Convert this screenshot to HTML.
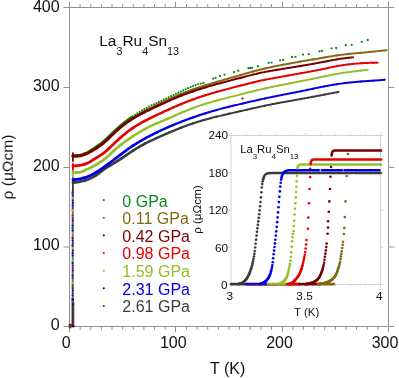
<!DOCTYPE html>
<html lang="en">
<head>
<meta charset="utf-8">
<title>La3Ru4Sn13 resistivity under pressure</title>
<style>
html,body{margin:0;padding:0;background:#ffffff;}
body{width:399px;height:378px;overflow:hidden;font-family:"Liberation Sans",sans-serif;}
svg{display:block;}
</style>
</head>
<body>
<svg width="399" height="378" viewBox="0 0 399 378">
<g id="main-curves">
<line x1="72.7" y1="190" x2="72.7" y2="299" stroke="#2c2c44" stroke-opacity="0.7" stroke-width="1.9"/>
<circle cx="72.49" cy="193" r="1.05" fill="#3c3c3c"/><circle cx="72.84" cy="195.5" r="1.05" fill="#0000e6"/><circle cx="72.67" cy="198" r="1.05" fill="#96be28"/><circle cx="72.81" cy="200.5" r="1.05" fill="#7a0000"/><circle cx="72.94" cy="203" r="1.05" fill="#0000e6"/><circle cx="72.72" cy="205.5" r="1.05" fill="#0000e6"/><circle cx="72.7" cy="208" r="1.05" fill="#3c3c3c"/><circle cx="72.49" cy="210.5" r="1.05" fill="#96be28"/><circle cx="72.58" cy="215.5" r="1.05" fill="#3c3c3c"/><circle cx="72.7" cy="218" r="1.05" fill="#e60000"/><circle cx="72.79" cy="220.5" r="1.05" fill="#0000e6"/><circle cx="72.85" cy="223" r="1.05" fill="#806b14"/><circle cx="72.64" cy="225.5" r="1.05" fill="#0000e6"/><circle cx="72.48" cy="228" r="1.05" fill="#3c3c3c"/><circle cx="72.59" cy="230.5" r="1.05" fill="#0000e6"/><circle cx="72.9" cy="233" r="1.05" fill="#96be28"/><circle cx="72.56" cy="238" r="1.05" fill="#7a0000"/><circle cx="72.68" cy="240.5" r="1.05" fill="#0000e6"/><circle cx="72.92" cy="243" r="1.05" fill="#3c3c3c"/><circle cx="72.46" cy="245.5" r="1.05" fill="#0000e6"/><circle cx="72.75" cy="248" r="1.05" fill="#96be28"/><circle cx="72.93" cy="250.5" r="1.05" fill="#7a0000"/><circle cx="72.57" cy="253" r="1.05" fill="#0000e6"/><circle cx="72.72" cy="255.5" r="1.05" fill="#0000e6"/><circle cx="72.9" cy="260.5" r="1.05" fill="#96be28"/><circle cx="72.52" cy="263" r="1.05" fill="#0000e6"/><circle cx="72.71" cy="265.5" r="1.05" fill="#3c3c3c"/><circle cx="72.83" cy="268" r="1.05" fill="#e60000"/><circle cx="72.78" cy="270.5" r="1.05" fill="#0000e6"/><circle cx="72.68" cy="273" r="1.05" fill="#806b14"/><circle cx="72.55" cy="275.5" r="1.05" fill="#0000e6"/><circle cx="72.7" cy="278" r="1.05" fill="#3c3c3c"/><circle cx="72.64" cy="283" r="1.05" fill="#96be28"/><circle cx="72.69" cy="285.5" r="1.05" fill="#3c3c3c"/><circle cx="72.63" cy="288" r="1.05" fill="#7a0000"/><circle cx="72.87" cy="290.5" r="1.05" fill="#0000e6"/><circle cx="72.83" cy="293" r="1.05" fill="#3c3c3c"/><circle cx="72.61" cy="295.5" r="1.05" fill="#0000e6"/>
<line x1="72.7" y1="298" x2="72.7" y2="326" stroke="#303030" stroke-width="2.3"/>
<line x1="73.95" y1="302" x2="73.95" y2="326" stroke="#6a2410" stroke-width="0.7"/>
<circle cx="72.7" cy="299.5" r="1.1" fill="#0000e6"/><circle cx="72.9" cy="304" r="1.1" fill="#0000e6"/>
<circle cx="72.6" cy="301.8" r="1" fill="#806b14"/>
<polyline points="72.9,155.7 73.9,155.69 74.9,155.65 75.9,155.58 76.9,155.51 77.9,155.41 78.9,155.31 79.9,155.17 80.9,154.95 81.9,154.66 82.9,154.33 83.9,153.96 84.9,153.57" fill="none" stroke="#0a8a1e" stroke-width="2.78" stroke-linecap="round" stroke-linejoin="round" /><polyline points="84.9,153.57 85.9,153.15 86.9,152.7 87.9,152.19 88.9,151.64 89.9,151.05 90.9,150.42 91.9,149.78 92.9,149.12 93.9,148.45 94.9,147.77 95.9,147.08 96.9,146.39" fill="none" stroke="#0a8a1e" stroke-width="2.76" stroke-linecap="round" stroke-linejoin="round" /><polyline points="96.9,146.39 97.9,145.68 98.9,144.97 99.9,144.24 100.9,143.49 101.9,142.71 102.9,141.91 103.9,141.08 104.9,140.22 105.9,139.34 106.9,138.42 107.9,137.48 108.9,136.51" fill="none" stroke="#0a8a1e" stroke-width="2.74" stroke-linecap="round" stroke-linejoin="round" /><polyline points="108.9,136.51 109.9,135.53 110.9,134.55 111.9,133.57 112.9,132.6 113.9,131.64 114.9,130.7 115.9,129.76 116.9,128.84 117.9,127.94 118.9,127.05 119.9,126.18 120.9,125.34" fill="none" stroke="#0a8a1e" stroke-width="2.72" stroke-linecap="round" stroke-linejoin="round" /><polyline points="120.9,125.34 121.9,124.51 122.9,123.69 123.9,122.9 124.9,122.11 125.9,121.35 126.9,120.59 127.9,119.85 128.9,119.12 129.9,118.4 130.9,117.69 131.9,116.99" fill="none" stroke="#0a8a1e" stroke-width="2.69" stroke-linecap="round" stroke-linejoin="round" />
<circle cx="132.9" cy="116.31" r="1.1" fill="#0a8a1e"/><circle cx="135.14" cy="114.8" r="1.1" fill="#0a8a1e"/><circle cx="137.41" cy="113.34" r="1.1" fill="#0a8a1e"/><circle cx="139.71" cy="111.92" r="1.1" fill="#0a8a1e"/><circle cx="142.03" cy="110.54" r="1.1" fill="#0a8a1e"/><circle cx="144.37" cy="109.2" r="1.1" fill="#0a8a1e"/><circle cx="146.74" cy="107.9" r="1.1" fill="#0a8a1e"/><circle cx="149.13" cy="106.65" r="1.1" fill="#0a8a1e"/><circle cx="151.54" cy="105.44" r="1.1" fill="#0a8a1e"/><circle cx="153.98" cy="104.26" r="1.1" fill="#0a8a1e"/><circle cx="156.42" cy="103.11" r="1.1" fill="#0a8a1e"/><circle cx="158.86" cy="101.97" r="1.1" fill="#0a8a1e"/><circle cx="161.31" cy="100.83" r="1.1" fill="#0a8a1e"/><circle cx="163.76" cy="99.68" r="1.1" fill="#0a8a1e"/><circle cx="166.2" cy="98.53" r="1.1" fill="#0a8a1e"/><circle cx="168.64" cy="97.37" r="1.1" fill="#0a8a1e"/><circle cx="171.07" cy="96.21" r="1.1" fill="#0a8a1e"/><circle cx="173.51" cy="95.04" r="1.1" fill="#0a8a1e"/><circle cx="175.94" cy="93.87" r="1.1" fill="#0a8a1e"/><circle cx="178.38" cy="92.71" r="1.1" fill="#0a8a1e"/><circle cx="180.81" cy="91.54" r="1.1" fill="#0a8a1e"/><circle cx="183.25" cy="90.39" r="1.1" fill="#0a8a1e"/><circle cx="185.7" cy="89.25" r="1.1" fill="#0a8a1e"/><circle cx="188.16" cy="88.14" r="1.1" fill="#0a8a1e"/><circle cx="190.64" cy="87.07" r="1.1" fill="#0a8a1e"/><circle cx="193.14" cy="86.05" r="1.1" fill="#0a8a1e"/><circle cx="195.67" cy="85.11" r="1.1" fill="#0a8a1e"/><circle cx="198.24" cy="84.26" r="1.1" fill="#0a8a1e"/><circle cx="200.83" cy="83.53" r="1.1" fill="#0a8a1e"/><circle cx="203.46" cy="82.92" r="1.1" fill="#0a8a1e"/>
<polyline points="72.9,182.6 73.9,182.51 74.9,182.4 75.9,182.27 76.9,182.13 77.9,181.98 78.9,181.82 79.9,181.64 80.9,181.45 81.9,181.23 82.9,181 83.9,180.74 84.9,180.47" fill="none" stroke="#3c3c3c" stroke-width="2.78" stroke-linecap="round" stroke-linejoin="round" /><polyline points="84.9,180.47 85.9,180.16 86.9,179.83 87.9,179.45 88.9,179.05 89.9,178.61 90.9,178.14 91.9,177.65 92.9,177.13 93.9,176.58 94.9,175.99 95.9,175.37 96.9,174.71" fill="none" stroke="#3c3c3c" stroke-width="2.76" stroke-linecap="round" stroke-linejoin="round" /><polyline points="96.9,174.71 97.9,174.02 98.9,173.28 99.9,172.51 100.9,171.72 101.9,170.94 102.9,170.17 103.9,169.43 104.9,168.71 105.9,168.04 106.9,167.39 107.9,166.76 108.9,166.16" fill="none" stroke="#3c3c3c" stroke-width="2.74" stroke-linecap="round" stroke-linejoin="round" /><polyline points="108.9,166.16 109.9,165.56 110.9,164.98 111.9,164.39 112.9,163.8 113.9,163.2 114.9,162.59 115.9,161.98 116.9,161.36 117.9,160.73 118.9,160.09 119.9,159.44 120.9,158.79" fill="none" stroke="#3c3c3c" stroke-width="2.72" stroke-linecap="round" stroke-linejoin="round" /><polyline points="120.9,158.79 121.9,158.12 122.9,157.45 123.9,156.78 124.9,156.1 125.9,155.42 126.9,154.75 127.9,154.07 128.9,153.4 129.9,152.73 130.9,152.07 131.9,151.42 132.9,150.77" fill="none" stroke="#3c3c3c" stroke-width="2.69" stroke-linecap="round" stroke-linejoin="round" /><polyline points="132.9,150.77 133.9,150.13 134.9,149.5 135.9,148.87 136.9,148.26 137.9,147.65 138.9,147.06 139.9,146.47 140.9,145.9 141.9,145.34 142.9,144.79 143.9,144.25 144.9,143.72" fill="none" stroke="#3c3c3c" stroke-width="2.59" stroke-linecap="round" stroke-linejoin="round" /><polyline points="144.9,143.72 145.9,143.2 146.9,142.69 147.9,142.19 148.9,141.7 149.9,141.21 150.9,140.73 151.9,140.26 152.9,139.8 153.9,139.33 154.9,138.87 155.9,138.41 156.9,137.96" fill="none" stroke="#3c3c3c" stroke-width="2.5" stroke-linecap="round" stroke-linejoin="round" /><polyline points="156.9,137.96 157.9,137.5 158.9,137.05 159.9,136.61 160.9,136.16 161.9,135.72 162.9,135.28 163.9,134.84 164.9,134.4 165.9,133.97 166.9,133.53 167.9,133.1 168.9,132.68" fill="none" stroke="#3c3c3c" stroke-width="2.41" stroke-linecap="round" stroke-linejoin="round" /><polyline points="168.9,132.68 169.9,132.25 170.9,131.83 171.9,131.41 172.9,130.99 173.9,130.58 174.9,130.17 175.9,129.76 176.9,129.36 177.9,128.96 178.9,128.56 179.9,128.17 180.9,127.78" fill="none" stroke="#3c3c3c" stroke-width="2.32" stroke-linecap="round" stroke-linejoin="round" /><polyline points="180.9,127.78 181.9,127.39 182.9,127.01 183.9,126.64 184.9,126.26 185.9,125.89 186.9,125.53 187.9,125.17 188.9,124.81 189.9,124.46 190.9,124.11 191.9,123.77 192.9,123.43" fill="none" stroke="#3c3c3c" stroke-width="2.24" stroke-linecap="round" stroke-linejoin="round" /><polyline points="192.9,123.43 193.9,123.1 194.9,122.77 195.9,122.45 196.9,122.13 197.9,121.81 198.9,121.5 199.9,121.2 200.9,120.9 201.9,120.6 202.9,120.31 203.9,120.02 204.9,119.74" fill="none" stroke="#3c3c3c" stroke-width="2.17" stroke-linecap="round" stroke-linejoin="round" /><polyline points="204.9,119.74 205.9,119.46 206.9,119.18 207.9,118.91 208.9,118.64 209.9,118.38 210.9,118.12 211.9,117.86 212.9,117.6 213.9,117.35 214.9,117.1 215.9,116.85 216.9,116.61" fill="none" stroke="#3c3c3c" stroke-width="2.09" stroke-linecap="round" stroke-linejoin="round" /><polyline points="216.9,116.61 217.9,116.36 218.9,116.12 219.9,115.88 220.9,115.64 221.9,115.4 222.9,115.17 223.9,114.94 224.9,114.7 225.9,114.47 226.9,114.24 227.9,114.01 228.9,113.79" fill="none" stroke="#3c3c3c" stroke-width="2.01" stroke-linecap="round" stroke-linejoin="round" /><polyline points="228.9,113.79 229.9,113.56 230.9,113.33 231.9,113.1 232.9,112.88 233.9,112.65 234.9,112.43 235.9,112.2 236.9,111.97 237.9,111.75 238.9,111.52 239.9,111.29 240.9,111.07" fill="none" stroke="#3c3c3c" stroke-width="2" stroke-linecap="round" stroke-linejoin="round" /><polyline points="240.9,111.07 241.9,110.84 242.9,110.61 243.9,110.38 244.9,110.15 245.9,109.92 246.9,109.69 247.9,109.47 248.9,109.24 249.9,109.01 250.9,108.78 251.9,108.55 252.9,108.33" fill="none" stroke="#3c3c3c" stroke-width="1.99" stroke-linecap="round" stroke-linejoin="round" /><polyline points="252.9,108.33 253.9,108.1 254.9,107.88 255.9,107.66 256.9,107.44 257.9,107.22 258.9,107 259.9,106.78 260.9,106.57 261.9,106.35 262.9,106.14 263.9,105.93 264.9,105.72" fill="none" stroke="#3c3c3c" stroke-width="1.99" stroke-linecap="round" stroke-linejoin="round" /><polyline points="264.9,105.72 265.9,105.51 266.9,105.31 267.9,105.1 268.9,104.9 269.9,104.7 270.9,104.5 271.9,104.3 272.9,104.1 273.9,103.91 274.9,103.71 275.9,103.52 276.9,103.33" fill="none" stroke="#3c3c3c" stroke-width="1.99" stroke-linecap="round" stroke-linejoin="round" /><polyline points="276.9,103.33 277.9,103.14 278.9,102.95 279.9,102.77 280.9,102.58 281.9,102.4 282.9,102.22 283.9,102.03 284.9,101.85 285.9,101.67 286.9,101.49 287.9,101.32 288.9,101.14" fill="none" stroke="#3c3c3c" stroke-width="1.98" stroke-linecap="round" stroke-linejoin="round" /><polyline points="288.9,101.14 289.9,100.96 290.9,100.79 291.9,100.61 292.9,100.43 293.9,100.26 294.9,100.08 295.9,99.9 296.9,99.73 297.9,99.55 298.9,99.37 299.9,99.19 300.9,99.01" fill="none" stroke="#3c3c3c" stroke-width="1.98" stroke-linecap="round" stroke-linejoin="round" /><polyline points="300.9,99.01 301.9,98.83 302.9,98.65 303.9,98.47 304.9,98.29 305.9,98.11 306.9,97.93 307.9,97.75 308.9,97.56 309.9,97.38 310.9,97.19 311.9,97.01 312.9,96.82" fill="none" stroke="#3c3c3c" stroke-width="1.98" stroke-linecap="round" stroke-linejoin="round" /><polyline points="312.9,96.82 313.9,96.63 314.9,96.45 315.9,96.26 316.9,96.07 317.9,95.88 318.9,95.69 319.9,95.5 320.9,95.31 321.9,95.12 322.9,94.92 323.9,94.73 324.9,94.54" fill="none" stroke="#3c3c3c" stroke-width="1.97" stroke-linecap="round" stroke-linejoin="round" /><polyline points="324.9,94.54 325.9,94.35 326.9,94.15 327.9,93.96 328.9,93.77 329.9,93.58 330.9,93.39 331.9,93.2 332.9,93.01 333.9,92.82 334.9,92.63 335.9,92.45 336.9,92.26" fill="none" stroke="#3c3c3c" stroke-width="1.97" stroke-linecap="round" stroke-linejoin="round" /><polyline points="336.9,92.26 337.9,92.08 338.7,91.9" fill="none" stroke="#3c3c3c" stroke-width="1.97" stroke-linecap="round" stroke-linejoin="round" />
<polyline points="72.9,179.7 73.9,179.63 74.9,179.54 75.9,179.43 76.9,179.31 77.9,179.17 78.9,179.02 79.9,178.85 80.9,178.65 81.9,178.42 82.9,178.16 83.9,177.88 84.9,177.58" fill="none" stroke="#0000e6" stroke-width="2.78" stroke-linecap="round" stroke-linejoin="round" /><polyline points="84.9,177.58 85.9,177.26 86.9,176.91 87.9,176.52 88.9,176.09 89.9,175.64 90.9,175.16 91.9,174.66 92.9,174.14 93.9,173.6 94.9,173.04 95.9,172.46 96.9,171.86" fill="none" stroke="#0000e6" stroke-width="2.76" stroke-linecap="round" stroke-linejoin="round" /><polyline points="96.9,171.86 97.9,171.24 98.9,170.6 99.9,169.94 100.9,169.25 101.9,168.55 102.9,167.84 103.9,167.13 104.9,166.41 105.9,165.68 106.9,164.95 107.9,164.22 108.9,163.48" fill="none" stroke="#0000e6" stroke-width="2.74" stroke-linecap="round" stroke-linejoin="round" /><polyline points="108.9,163.48 109.9,162.73 110.9,161.98 111.9,161.23 112.9,160.47 113.9,159.71 114.9,158.95 115.9,158.18 116.9,157.42 117.9,156.65 118.9,155.88 119.9,155.12 120.9,154.36" fill="none" stroke="#0000e6" stroke-width="2.72" stroke-linecap="round" stroke-linejoin="round" /><polyline points="120.9,154.36 121.9,153.59 122.9,152.84 123.9,152.09 124.9,151.34 125.9,150.61 126.9,149.88 127.9,149.16 128.9,148.46 129.9,147.76 130.9,147.07 131.9,146.4 132.9,145.73" fill="none" stroke="#0000e6" stroke-width="2.69" stroke-linecap="round" stroke-linejoin="round" /><polyline points="132.9,145.73 133.9,145.08 134.9,144.43 135.9,143.8 136.9,143.17 137.9,142.56 138.9,141.95 139.9,141.36 140.9,140.77 141.9,140.19 142.9,139.63 143.9,139.07 144.9,138.52" fill="none" stroke="#0000e6" stroke-width="2.59" stroke-linecap="round" stroke-linejoin="round" /><polyline points="144.9,138.52 145.9,137.97 146.9,137.43 147.9,136.9 148.9,136.38 149.9,135.86 150.9,135.35 151.9,134.85 152.9,134.34 153.9,133.84 154.9,133.35 155.9,132.85 156.9,132.37" fill="none" stroke="#0000e6" stroke-width="2.5" stroke-linecap="round" stroke-linejoin="round" /><polyline points="156.9,132.37 157.9,131.88 158.9,131.4 159.9,130.93 160.9,130.46 161.9,129.99 162.9,129.53 163.9,129.08 164.9,128.63 165.9,128.18 166.9,127.73 167.9,127.29 168.9,126.85" fill="none" stroke="#0000e6" stroke-width="2.41" stroke-linecap="round" stroke-linejoin="round" /><polyline points="168.9,126.85 169.9,126.42 170.9,125.99 171.9,125.57 172.9,125.15 173.9,124.74 174.9,124.32 175.9,123.92 176.9,123.51 177.9,123.11 178.9,122.71 179.9,122.32 180.9,121.93" fill="none" stroke="#0000e6" stroke-width="2.32" stroke-linecap="round" stroke-linejoin="round" /><polyline points="180.9,121.93 181.9,121.54 182.9,121.15 183.9,120.77 184.9,120.39 185.9,120.01 186.9,119.64 187.9,119.26 188.9,118.9 189.9,118.53 190.9,118.17 191.9,117.81 192.9,117.45" fill="none" stroke="#0000e6" stroke-width="2.24" stroke-linecap="round" stroke-linejoin="round" /><polyline points="192.9,117.45 193.9,117.1 194.9,116.75 195.9,116.4 196.9,116.06 197.9,115.72 198.9,115.39 199.9,115.06 200.9,114.73 201.9,114.4 202.9,114.08 203.9,113.76 204.9,113.45" fill="none" stroke="#0000e6" stroke-width="2.17" stroke-linecap="round" stroke-linejoin="round" /><polyline points="204.9,113.45 205.9,113.14 206.9,112.83 207.9,112.53 208.9,112.23 209.9,111.93 210.9,111.63 211.9,111.34 212.9,111.05 213.9,110.77 214.9,110.49 215.9,110.21 216.9,109.93" fill="none" stroke="#0000e6" stroke-width="2.09" stroke-linecap="round" stroke-linejoin="round" /><polyline points="216.9,109.93 217.9,109.65 218.9,109.38 219.9,109.11 220.9,108.85 221.9,108.58 222.9,108.32 223.9,108.06 224.9,107.8 225.9,107.55 226.9,107.3 227.9,107.04 228.9,106.8" fill="none" stroke="#0000e6" stroke-width="2.01" stroke-linecap="round" stroke-linejoin="round" /><polyline points="228.9,106.8 229.9,106.55 230.9,106.3 231.9,106.06 232.9,105.81 233.9,105.57 234.9,105.33 235.9,105.09 236.9,104.85 237.9,104.61 238.9,104.37 239.9,104.14 240.9,103.9" fill="none" stroke="#0000e6" stroke-width="2" stroke-linecap="round" stroke-linejoin="round" /><polyline points="240.9,103.9 241.9,103.67 242.9,103.43 243.9,103.2 244.9,102.96 245.9,102.73 246.9,102.5 247.9,102.27 248.9,102.04 249.9,101.81 250.9,101.58 251.9,101.35 252.9,101.12" fill="none" stroke="#0000e6" stroke-width="1.99" stroke-linecap="round" stroke-linejoin="round" /><polyline points="252.9,101.12 253.9,100.89 254.9,100.67 255.9,100.44 256.9,100.22 257.9,100 258.9,99.78 259.9,99.56 260.9,99.34 261.9,99.12 262.9,98.9 263.9,98.68 264.9,98.47" fill="none" stroke="#0000e6" stroke-width="1.99" stroke-linecap="round" stroke-linejoin="round" /><polyline points="264.9,98.47 265.9,98.25 266.9,98.04 267.9,97.83 268.9,97.61 269.9,97.4 270.9,97.2 271.9,96.99 272.9,96.78 273.9,96.57 274.9,96.37 275.9,96.17 276.9,95.96" fill="none" stroke="#0000e6" stroke-width="1.99" stroke-linecap="round" stroke-linejoin="round" /><polyline points="276.9,95.96 277.9,95.76 278.9,95.56 279.9,95.36 280.9,95.17 281.9,94.97 282.9,94.77 283.9,94.58 284.9,94.38 285.9,94.19 286.9,94 287.9,93.8 288.9,93.61" fill="none" stroke="#0000e6" stroke-width="1.98" stroke-linecap="round" stroke-linejoin="round" /><polyline points="288.9,93.61 289.9,93.42 290.9,93.23 291.9,93.03 292.9,92.84 293.9,92.64 294.9,92.45 295.9,92.25 296.9,92.05 297.9,91.85 298.9,91.65 299.9,91.45 300.9,91.25" fill="none" stroke="#0000e6" stroke-width="1.98" stroke-linecap="round" stroke-linejoin="round" /><polyline points="300.9,91.25 301.9,91.04 302.9,90.83 303.9,90.63 304.9,90.42 305.9,90.21 306.9,90 307.9,89.79 308.9,89.57 309.9,89.36 310.9,89.15 311.9,88.94 312.9,88.73" fill="none" stroke="#0000e6" stroke-width="1.98" stroke-linecap="round" stroke-linejoin="round" /><polyline points="312.9,88.73 313.9,88.52 314.9,88.31 315.9,88.1 316.9,87.89 317.9,87.68 318.9,87.48 319.9,87.28 320.9,87.08 321.9,86.88 322.9,86.68 323.9,86.48 324.9,86.29" fill="none" stroke="#0000e6" stroke-width="1.97" stroke-linecap="round" stroke-linejoin="round" /><polyline points="324.9,86.29 325.9,86.1 326.9,85.91 327.9,85.72 328.9,85.54 329.9,85.36 330.9,85.18 331.9,85.01 332.9,84.84 333.9,84.67 334.9,84.51 335.9,84.35 336.9,84.2" fill="none" stroke="#0000e6" stroke-width="1.97" stroke-linecap="round" stroke-linejoin="round" /><polyline points="336.9,84.2 337.9,84.05 338.9,83.9 339.9,83.75 340.9,83.61 341.9,83.48 342.9,83.35 343.9,83.22 344.9,83.09 345.9,82.97 346.9,82.85 347.9,82.74 348.9,82.63" fill="none" stroke="#0000e6" stroke-width="1.97" stroke-linecap="round" stroke-linejoin="round" /><polyline points="348.9,82.63 349.9,82.52 350.9,82.41 351.9,82.31 352.9,82.21 353.9,82.11 354.9,82.02 355.9,81.93 356.9,81.84 357.9,81.75 358.9,81.67 359.9,81.58 360.9,81.5" fill="none" stroke="#0000e6" stroke-width="1.96" stroke-linecap="round" stroke-linejoin="round" /><polyline points="360.9,81.5 361.9,81.43 362.9,81.35 363.9,81.27 364.9,81.2 365.9,81.13 366.9,81.06 367.9,80.99 368.9,80.92 369.9,80.85 370.9,80.78 371.9,80.71 372.9,80.65" fill="none" stroke="#0000e6" stroke-width="1.96" stroke-linecap="round" stroke-linejoin="round" /><polyline points="372.9,80.65 373.9,80.58 374.9,80.51 375.9,80.44 376.9,80.37 377.9,80.3 378.9,80.22 379.9,80.15 380.9,80.08 381.9,80 382.9,79.93 383.9,79.85 384.9,79.77" fill="none" stroke="#0000e6" stroke-width="1.96" stroke-linecap="round" stroke-linejoin="round" />
<polyline points="72.9,172.6 73.9,172.59 74.9,172.58 75.9,172.55 76.9,172.51 77.9,172.46 78.9,172.41 79.9,172.28 80.9,172 81.9,171.63 82.9,171.19 83.9,170.72 84.9,170.25" fill="none" stroke="#96be28" stroke-width="2.78" stroke-linecap="round" stroke-linejoin="round" /><polyline points="84.9,170.25 85.9,169.8 86.9,169.36 87.9,168.9 88.9,168.44 89.9,167.95 90.9,167.46 91.9,166.95 92.9,166.43 93.9,165.9 94.9,165.35 95.9,164.79 96.9,164.22" fill="none" stroke="#96be28" stroke-width="2.76" stroke-linecap="round" stroke-linejoin="round" /><polyline points="96.9,164.22 97.9,163.63 98.9,163.03 99.9,162.41 100.9,161.76 101.9,161.08 102.9,160.38 103.9,159.64 104.9,158.87 105.9,158.06 106.9,157.21 107.9,156.32 108.9,155.41" fill="none" stroke="#96be28" stroke-width="2.74" stroke-linecap="round" stroke-linejoin="round" /><polyline points="108.9,155.41 109.9,154.48 110.9,153.54 111.9,152.6 112.9,151.67 113.9,150.76 114.9,149.86 115.9,148.97 116.9,148.09 117.9,147.23 118.9,146.39 119.9,145.57 120.9,144.77" fill="none" stroke="#96be28" stroke-width="2.72" stroke-linecap="round" stroke-linejoin="round" /><polyline points="120.9,144.77 121.9,143.99 122.9,143.22 123.9,142.47 124.9,141.74 125.9,141.02 126.9,140.31 127.9,139.61 128.9,138.92 129.9,138.25 130.9,137.58 131.9,136.92 132.9,136.26" fill="none" stroke="#96be28" stroke-width="2.69" stroke-linecap="round" stroke-linejoin="round" /><polyline points="132.9,136.26 133.9,135.62 134.9,134.98 135.9,134.36 136.9,133.74 137.9,133.13 138.9,132.52 139.9,131.93 140.9,131.34 141.9,130.76 142.9,130.19 143.9,129.63 144.9,129.07" fill="none" stroke="#96be28" stroke-width="2.59" stroke-linecap="round" stroke-linejoin="round" /><polyline points="144.9,129.07 145.9,128.53 146.9,127.99 147.9,127.47 148.9,126.95 149.9,126.44 150.9,125.96 151.9,125.49 152.9,125.03 153.9,124.58 154.9,124.14 155.9,123.71 156.9,123.28" fill="none" stroke="#96be28" stroke-width="2.5" stroke-linecap="round" stroke-linejoin="round" /><polyline points="156.9,123.28 157.9,122.86 158.9,122.44 159.9,122.02 160.9,121.6 161.9,121.17 162.9,120.75 163.9,120.33 164.9,119.9 165.9,119.47 166.9,119.05 167.9,118.62 168.9,118.19" fill="none" stroke="#96be28" stroke-width="2.41" stroke-linecap="round" stroke-linejoin="round" /><polyline points="168.9,118.19 169.9,117.76 170.9,117.33 171.9,116.89 172.9,116.46 173.9,116.03 174.9,115.59 175.9,115.16 176.9,114.72 177.9,114.29 178.9,113.86 179.9,113.42 180.9,112.99" fill="none" stroke="#96be28" stroke-width="2.32" stroke-linecap="round" stroke-linejoin="round" /><polyline points="180.9,112.99 181.9,112.57 182.9,112.14 183.9,111.72 184.9,111.3 185.9,110.89 186.9,110.47 187.9,110.07 188.9,109.66 189.9,109.26 190.9,108.87 191.9,108.48 192.9,108.09" fill="none" stroke="#96be28" stroke-width="2.24" stroke-linecap="round" stroke-linejoin="round" /><polyline points="192.9,108.09 193.9,107.71 194.9,107.34 195.9,106.97 196.9,106.61 197.9,106.25 198.9,105.9 199.9,105.56 200.9,105.22 201.9,104.89 202.9,104.56 203.9,104.24 204.9,103.93" fill="none" stroke="#96be28" stroke-width="2.17" stroke-linecap="round" stroke-linejoin="round" /><polyline points="204.9,103.93 205.9,103.62 206.9,103.31 207.9,103.01 208.9,102.72 209.9,102.43 210.9,102.14 211.9,101.85 212.9,101.57 213.9,101.29 214.9,101.02 215.9,100.75 216.9,100.48" fill="none" stroke="#96be28" stroke-width="2.09" stroke-linecap="round" stroke-linejoin="round" /><polyline points="216.9,100.48 217.9,100.21 218.9,99.94 219.9,99.68 220.9,99.41 221.9,99.15 222.9,98.89 223.9,98.64 224.9,98.38 225.9,98.12 226.9,97.87 227.9,97.61 228.9,97.36" fill="none" stroke="#96be28" stroke-width="2.01" stroke-linecap="round" stroke-linejoin="round" /><polyline points="228.9,97.36 229.9,97.11 230.9,96.86 231.9,96.61 232.9,96.35 233.9,96.1 234.9,95.85 235.9,95.6 236.9,95.35 237.9,95.1 238.9,94.84 239.9,94.59 240.9,94.34" fill="none" stroke="#96be28" stroke-width="2" stroke-linecap="round" stroke-linejoin="round" /><polyline points="240.9,94.34 241.9,94.08 242.9,93.83 243.9,93.58 244.9,93.32 245.9,93.07 246.9,92.81 247.9,92.56 248.9,92.31 249.9,92.05 250.9,91.8 251.9,91.55 252.9,91.3" fill="none" stroke="#96be28" stroke-width="1.99" stroke-linecap="round" stroke-linejoin="round" /><polyline points="252.9,91.3 253.9,91.06 254.9,90.81 255.9,90.57 256.9,90.33 257.9,90.09 258.9,89.85 259.9,89.62 260.9,89.39 261.9,89.16 262.9,88.93 263.9,88.7 264.9,88.48" fill="none" stroke="#96be28" stroke-width="1.99" stroke-linecap="round" stroke-linejoin="round" /><polyline points="264.9,88.48 265.9,88.26 266.9,88.04 267.9,87.83 268.9,87.61 269.9,87.4 270.9,87.19 271.9,86.98 272.9,86.77 273.9,86.56 274.9,86.36 275.9,86.15 276.9,85.95" fill="none" stroke="#96be28" stroke-width="1.99" stroke-linecap="round" stroke-linejoin="round" /><polyline points="276.9,85.95 277.9,85.75 278.9,85.54 279.9,85.34 280.9,85.14 281.9,84.94 282.9,84.75 283.9,84.55 284.9,84.35 285.9,84.15 286.9,83.96 287.9,83.76 288.9,83.56" fill="none" stroke="#96be28" stroke-width="1.98" stroke-linecap="round" stroke-linejoin="round" /><polyline points="288.9,83.56 289.9,83.37 290.9,83.17 291.9,82.97 292.9,82.78 293.9,82.58 294.9,82.38 295.9,82.19 296.9,81.99 297.9,81.79 298.9,81.59 299.9,81.39 300.9,81.19" fill="none" stroke="#96be28" stroke-width="1.98" stroke-linecap="round" stroke-linejoin="round" /><polyline points="300.9,81.19 301.9,80.99 302.9,80.79 303.9,80.59 304.9,80.39 305.9,80.19 306.9,79.98 307.9,79.78 308.9,79.58 309.9,79.37 310.9,79.17 311.9,78.96 312.9,78.75" fill="none" stroke="#96be28" stroke-width="1.98" stroke-linecap="round" stroke-linejoin="round" /><polyline points="312.9,78.75 313.9,78.55 314.9,78.34 315.9,78.13 316.9,77.92 317.9,77.71 318.9,77.5 319.9,77.29 320.9,77.09 321.9,76.88 322.9,76.67 323.9,76.46 324.9,76.25" fill="none" stroke="#96be28" stroke-width="1.97" stroke-linecap="round" stroke-linejoin="round" /><polyline points="324.9,76.25 325.9,76.04 326.9,75.84 327.9,75.63 328.9,75.43 329.9,75.23 330.9,75.03 331.9,74.83 332.9,74.64 333.9,74.45 334.9,74.26 335.9,74.08 336.9,73.9" fill="none" stroke="#96be28" stroke-width="1.97" stroke-linecap="round" stroke-linejoin="round" /><polyline points="336.9,73.9 337.9,73.73 338.9,73.56 339.9,73.39 340.9,73.23 341.9,73.07 342.9,72.92 343.9,72.77 344.9,72.63 345.9,72.49 346.9,72.35 347.9,72.21 348.9,72.08" fill="none" stroke="#96be28" stroke-width="1.97" stroke-linecap="round" stroke-linejoin="round" /><polyline points="348.9,72.08 349.9,71.95 350.9,71.82 351.9,71.69 352.9,71.56 353.9,71.44 354.9,71.31 355.9,71.19 356.9,71.07 357.9,70.95 358.9,70.82 359.9,70.7 360.9,70.58" fill="none" stroke="#96be28" stroke-width="1.96" stroke-linecap="round" stroke-linejoin="round" /><polyline points="360.9,70.58 361.9,70.46 362.9,70.35 363.9,70.23 364.9,70.11 365.9,69.99 366.9,69.88 367.7,69.76" fill="none" stroke="#96be28" stroke-width="1.96" stroke-linecap="round" stroke-linejoin="round" />
<polyline points="72.9,165.9 73.9,165.87 74.9,165.82 75.9,165.74 76.9,165.64 77.9,165.53 78.9,165.41 79.9,165.28 80.9,165.1 81.9,164.89 82.9,164.65 83.9,164.37 84.9,164.07" fill="none" stroke="#e60000" stroke-width="2.78" stroke-linecap="round" stroke-linejoin="round" /><polyline points="84.9,164.07 85.9,163.74 86.9,163.35 87.9,162.9 88.9,162.39 89.9,161.83 90.9,161.24 91.9,160.63 92.9,160.01 93.9,159.39 94.9,158.76 95.9,158.14 96.9,157.52" fill="none" stroke="#e60000" stroke-width="2.76" stroke-linecap="round" stroke-linejoin="round" /><polyline points="96.9,157.52 97.9,156.9 98.9,156.27 99.9,155.64 100.9,154.98 101.9,154.3 102.9,153.59 103.9,152.85 104.9,152.06 105.9,151.24 106.9,150.38 107.9,149.48 108.9,148.55" fill="none" stroke="#e60000" stroke-width="2.74" stroke-linecap="round" stroke-linejoin="round" /><polyline points="108.9,148.55 109.9,147.59 110.9,146.63 111.9,145.65 112.9,144.68 113.9,143.71 114.9,142.76 115.9,141.81 116.9,140.87 117.9,139.93 118.9,139.02 119.9,138.12 120.9,137.24" fill="none" stroke="#e60000" stroke-width="2.72" stroke-linecap="round" stroke-linejoin="round" /><polyline points="120.9,137.24 121.9,136.37 122.9,135.52 123.9,134.69 124.9,133.88 125.9,133.08 126.9,132.3 127.9,131.54 128.9,130.79 129.9,130.06 130.9,129.35 131.9,128.65 132.9,127.97" fill="none" stroke="#e60000" stroke-width="2.69" stroke-linecap="round" stroke-linejoin="round" /><polyline points="132.9,127.97 133.9,127.3 134.9,126.65 135.9,126.01 136.9,125.38 137.9,124.77 138.9,124.17 139.9,123.58 140.9,123.01 141.9,122.44 142.9,121.89 143.9,121.36 144.9,120.83" fill="none" stroke="#e60000" stroke-width="2.59" stroke-linecap="round" stroke-linejoin="round" /><polyline points="144.9,120.83 145.9,120.31 146.9,119.8 147.9,119.3 148.9,118.8 149.9,118.31 150.9,117.83 151.9,117.35 152.9,116.87 153.9,116.39 154.9,115.91 155.9,115.43 156.9,114.96" fill="none" stroke="#e60000" stroke-width="2.5" stroke-linecap="round" stroke-linejoin="round" /><polyline points="156.9,114.96 157.9,114.48 158.9,114.01 159.9,113.54 160.9,113.07 161.9,112.6 162.9,112.13 163.9,111.67 164.9,111.21 165.9,110.75 166.9,110.29 167.9,109.83 168.9,109.37" fill="none" stroke="#e60000" stroke-width="2.41" stroke-linecap="round" stroke-linejoin="round" /><polyline points="168.9,109.37 169.9,108.92 170.9,108.47 171.9,108.03 172.9,107.58 173.9,107.14 174.9,106.71 175.9,106.27 176.9,105.85 177.9,105.42 178.9,105 179.9,104.58 180.9,104.17" fill="none" stroke="#e60000" stroke-width="2.32" stroke-linecap="round" stroke-linejoin="round" /><polyline points="180.9,104.17 181.9,103.76 182.9,103.35 183.9,102.95 184.9,102.55 185.9,102.16 186.9,101.77 187.9,101.38 188.9,101 189.9,100.62 190.9,100.25 191.9,99.88 192.9,99.51" fill="none" stroke="#e60000" stroke-width="2.24" stroke-linecap="round" stroke-linejoin="round" /><polyline points="192.9,99.51 193.9,99.15 194.9,98.79 195.9,98.44 196.9,98.09 197.9,97.74 198.9,97.4 199.9,97.06 200.9,96.73 201.9,96.4 202.9,96.07 203.9,95.75 204.9,95.43" fill="none" stroke="#e60000" stroke-width="2.17" stroke-linecap="round" stroke-linejoin="round" /><polyline points="204.9,95.43 205.9,95.11 206.9,94.8 207.9,94.49 208.9,94.18 209.9,93.88 210.9,93.58 211.9,93.28 212.9,92.99 213.9,92.7 214.9,92.41 215.9,92.12 216.9,91.84" fill="none" stroke="#e60000" stroke-width="2.09" stroke-linecap="round" stroke-linejoin="round" /><polyline points="216.9,91.84 217.9,91.56 218.9,91.28 219.9,91.01 220.9,90.73 221.9,90.46 222.9,90.19 223.9,89.93 224.9,89.66 225.9,89.4 226.9,89.14 227.9,88.87 228.9,88.61" fill="none" stroke="#e60000" stroke-width="2.01" stroke-linecap="round" stroke-linejoin="round" /><polyline points="228.9,88.61 229.9,88.36 230.9,88.1 231.9,87.84 232.9,87.58 233.9,87.32 234.9,87.07 235.9,86.81 236.9,86.55 237.9,86.29 238.9,86.03 239.9,85.78 240.9,85.52" fill="none" stroke="#e60000" stroke-width="2" stroke-linecap="round" stroke-linejoin="round" /><polyline points="240.9,85.52 241.9,85.26 242.9,84.99 243.9,84.73 244.9,84.47 245.9,84.21 246.9,83.95 247.9,83.7 248.9,83.44 249.9,83.18 250.9,82.93 251.9,82.68 252.9,82.43" fill="none" stroke="#e60000" stroke-width="1.99" stroke-linecap="round" stroke-linejoin="round" /><polyline points="252.9,82.43 253.9,82.19 254.9,81.95 255.9,81.71 256.9,81.47 257.9,81.24 258.9,81.02 259.9,80.8 260.9,80.58 261.9,80.37 262.9,80.16 263.9,79.95 264.9,79.75" fill="none" stroke="#e60000" stroke-width="1.99" stroke-linecap="round" stroke-linejoin="round" /><polyline points="264.9,79.75 265.9,79.56 266.9,79.36 267.9,79.17 268.9,78.98 269.9,78.79 270.9,78.61 271.9,78.43 272.9,78.25 273.9,78.07 274.9,77.89 275.9,77.71 276.9,77.53" fill="none" stroke="#e60000" stroke-width="1.99" stroke-linecap="round" stroke-linejoin="round" /><polyline points="276.9,77.53 277.9,77.35 278.9,77.18 279.9,77 280.9,76.82 281.9,76.64 282.9,76.47 283.9,76.29 284.9,76.11 285.9,75.93 286.9,75.75 287.9,75.57 288.9,75.4" fill="none" stroke="#e60000" stroke-width="1.98" stroke-linecap="round" stroke-linejoin="round" /><polyline points="288.9,75.4 289.9,75.22 290.9,75.04 291.9,74.86 292.9,74.68 293.9,74.5 294.9,74.32 295.9,74.14 296.9,73.96 297.9,73.79 298.9,73.61 299.9,73.43 300.9,73.25" fill="none" stroke="#e60000" stroke-width="1.98" stroke-linecap="round" stroke-linejoin="round" /><polyline points="300.9,73.25 301.9,73.07 302.9,72.89 303.9,72.71 304.9,72.53 305.9,72.35 306.9,72.17 307.9,71.99 308.9,71.81 309.9,71.63 310.9,71.44 311.9,71.26 312.9,71.07" fill="none" stroke="#e60000" stroke-width="1.98" stroke-linecap="round" stroke-linejoin="round" /><polyline points="312.9,71.07 313.9,70.88 314.9,70.69 315.9,70.49 316.9,70.3 317.9,70.1 318.9,69.89 319.9,69.69 320.9,69.48 321.9,69.27 322.9,69.06 323.9,68.85 324.9,68.64" fill="none" stroke="#e60000" stroke-width="1.97" stroke-linecap="round" stroke-linejoin="round" /><polyline points="324.9,68.64 325.9,68.42 326.9,68.21 327.9,67.99 328.9,67.78 329.9,67.57 330.9,67.36 331.9,67.15 332.9,66.94 333.9,66.74 334.9,66.55 335.9,66.35 336.9,66.17" fill="none" stroke="#e60000" stroke-width="1.97" stroke-linecap="round" stroke-linejoin="round" /><polyline points="336.9,66.17 337.9,65.98 338.9,65.81 339.9,65.64 340.9,65.47 341.9,65.31 342.9,65.16 343.9,65.01 344.9,64.86 345.9,64.73 346.9,64.59 347.9,64.47 348.9,64.35" fill="none" stroke="#e60000" stroke-width="1.97" stroke-linecap="round" stroke-linejoin="round" /><polyline points="348.9,64.35 349.9,64.23 350.9,64.12 351.9,64.01 352.9,63.91 353.9,63.82 354.9,63.73 355.9,63.64 356.9,63.56 357.9,63.48 358.9,63.41 359.9,63.34 360.9,63.27" fill="none" stroke="#e60000" stroke-width="1.96" stroke-linecap="round" stroke-linejoin="round" /><polyline points="360.9,63.27 361.9,63.21 362.9,63.15 363.9,63.1 364.9,63.05 365.9,63 366.9,62.96 367.9,62.92 368.9,62.88 369.9,62.84 370.9,62.81 371.9,62.78 372.9,62.76" fill="none" stroke="#e60000" stroke-width="1.96" stroke-linecap="round" stroke-linejoin="round" /><polyline points="372.9,62.76 373.9,62.73 374.9,62.71 375.9,62.69 376.9,62.68 377.6,62.66" fill="none" stroke="#e60000" stroke-width="1.96" stroke-linecap="round" stroke-linejoin="round" />
<polyline points="72.9,156.5 73.9,156.49 74.9,156.46 75.9,156.42 76.9,156.36 77.9,156.29 78.9,156.21 79.9,156.09 80.9,155.88 81.9,155.6 82.9,155.28 83.9,154.93 84.9,154.55" fill="none" stroke="#806b14" stroke-width="2.78" stroke-linecap="round" stroke-linejoin="round" /><polyline points="84.9,154.55 85.9,154.17 86.9,153.75 87.9,153.29 88.9,152.8 89.9,152.27 90.9,151.72 91.9,151.14 92.9,150.54 93.9,149.93 94.9,149.3 95.9,148.66 96.9,148.01" fill="none" stroke="#806b14" stroke-width="2.76" stroke-linecap="round" stroke-linejoin="round" /><polyline points="96.9,148.01 97.9,147.33 98.9,146.64 99.9,145.93 100.9,145.18 101.9,144.41 102.9,143.6 103.9,142.77 104.9,141.91 105.9,141.01 106.9,140.07 107.9,139.11 108.9,138.12" fill="none" stroke="#806b14" stroke-width="2.74" stroke-linecap="round" stroke-linejoin="round" /><polyline points="108.9,138.12 109.9,137.12 110.9,136.11 111.9,135.11 112.9,134.12 113.9,133.14 114.9,132.19 115.9,131.24 116.9,130.31 117.9,129.4 118.9,128.51 119.9,127.65 120.9,126.81" fill="none" stroke="#806b14" stroke-width="2.72" stroke-linecap="round" stroke-linejoin="round" /><polyline points="120.9,126.81 121.9,125.99 122.9,125.19 123.9,124.42 124.9,123.66 125.9,122.92 126.9,122.2 127.9,121.49 128.9,120.8 129.9,120.13 130.9,119.46 131.9,118.81 132.9,118.17" fill="none" stroke="#806b14" stroke-width="2.69" stroke-linecap="round" stroke-linejoin="round" /><polyline points="132.9,118.17 133.9,117.55 134.9,116.93 135.9,116.32 136.9,115.73 137.9,115.14 138.9,114.56 139.9,113.98 140.9,113.41 141.9,112.85 142.9,112.3 143.9,111.75 144.9,111.21" fill="none" stroke="#806b14" stroke-width="2.59" stroke-linecap="round" stroke-linejoin="round" /><polyline points="144.9,111.21 145.9,110.67 146.9,110.14 147.9,109.61 148.9,109.09 149.9,108.57 150.9,108.06 151.9,107.55 152.9,107.05 153.9,106.55 154.9,106.05 155.9,105.56 156.9,105.06" fill="none" stroke="#806b14" stroke-width="2.5" stroke-linecap="round" stroke-linejoin="round" /><polyline points="156.9,105.06 157.9,104.57 158.9,104.09 159.9,103.6 160.9,103.12 161.9,102.64 162.9,102.16 163.9,101.69 164.9,101.22 165.9,100.75 166.9,100.28 167.9,99.81 168.9,99.35" fill="none" stroke="#806b14" stroke-width="2.41" stroke-linecap="round" stroke-linejoin="round" /><polyline points="168.9,99.35 169.9,98.89 170.9,98.43 171.9,97.98 172.9,97.54 173.9,97.09 174.9,96.65 175.9,96.22 176.9,95.79 177.9,95.36 178.9,94.94 179.9,94.52 180.9,94.11" fill="none" stroke="#806b14" stroke-width="2.32" stroke-linecap="round" stroke-linejoin="round" /><polyline points="180.9,94.11 181.9,93.71 182.9,93.31 183.9,92.91 184.9,92.52 185.9,92.13 186.9,91.75 187.9,91.37 188.9,90.99 189.9,90.63 190.9,90.26 191.9,89.9 192.9,89.54" fill="none" stroke="#806b14" stroke-width="2.24" stroke-linecap="round" stroke-linejoin="round" /><polyline points="192.9,89.54 193.9,89.19 194.9,88.84 195.9,88.49 196.9,88.14 197.9,87.8 198.9,87.47 199.9,87.13 200.9,86.8 201.9,86.47 202.9,86.15 203.9,85.83 204.9,85.51" fill="none" stroke="#806b14" stroke-width="2.17" stroke-linecap="round" stroke-linejoin="round" /><polyline points="204.9,85.51 205.9,85.19 206.9,84.87 207.9,84.56 208.9,84.25 209.9,83.95 210.9,83.64 211.9,83.34 212.9,83.04 213.9,82.74 214.9,82.44 215.9,82.14 216.9,81.85" fill="none" stroke="#806b14" stroke-width="2.09" stroke-linecap="round" stroke-linejoin="round" /><polyline points="216.9,81.85 217.9,81.55 218.9,81.26 219.9,80.97 220.9,80.68 221.9,80.39 222.9,80.11 223.9,79.82 224.9,79.53 225.9,79.25 226.9,78.97 227.9,78.68 228.9,78.4" fill="none" stroke="#806b14" stroke-width="2.01" stroke-linecap="round" stroke-linejoin="round" /><polyline points="228.9,78.4 229.9,78.12 230.9,77.83 231.9,77.55 232.9,77.27 233.9,76.99 234.9,76.7 235.9,76.42 236.9,76.13 237.9,75.85 238.9,75.56 239.9,75.27 240.9,74.98" fill="none" stroke="#806b14" stroke-width="2" stroke-linecap="round" stroke-linejoin="round" /><polyline points="240.9,74.98 241.9,74.7 242.9,74.41 243.9,74.12 244.9,73.83 245.9,73.54 246.9,73.25 247.9,72.96 248.9,72.68 249.9,72.39 250.9,72.11 251.9,71.83 252.9,71.55" fill="none" stroke="#806b14" stroke-width="1.99" stroke-linecap="round" stroke-linejoin="round" /><polyline points="252.9,71.55 253.9,71.27 254.9,71 255.9,70.73 256.9,70.47 257.9,70.2 258.9,69.95 259.9,69.69 260.9,69.45 261.9,69.2 262.9,68.96 263.9,68.73 264.9,68.49" fill="none" stroke="#806b14" stroke-width="1.99" stroke-linecap="round" stroke-linejoin="round" /><polyline points="264.9,68.49 265.9,68.26 266.9,68.04 267.9,67.82 268.9,67.6 269.9,67.38 270.9,67.17 271.9,66.96 272.9,66.75 273.9,66.55 274.9,66.34 275.9,66.14 276.9,65.94" fill="none" stroke="#806b14" stroke-width="1.99" stroke-linecap="round" stroke-linejoin="round" /><polyline points="276.9,65.94 277.9,65.74 278.9,65.54 279.9,65.35 280.9,65.15 281.9,64.96 282.9,64.77 283.9,64.58 284.9,64.38 285.9,64.2 286.9,64.01 287.9,63.82 288.9,63.63" fill="none" stroke="#806b14" stroke-width="1.98" stroke-linecap="round" stroke-linejoin="round" /><polyline points="288.9,63.63 289.9,63.45 290.9,63.26 291.9,63.08 292.9,62.9 293.9,62.72 294.9,62.54 295.9,62.36 296.9,62.18 297.9,62.01 298.9,61.83 299.9,61.66 300.9,61.48" fill="none" stroke="#806b14" stroke-width="1.98" stroke-linecap="round" stroke-linejoin="round" /><polyline points="300.9,61.48 301.9,61.31 302.9,61.14 303.9,60.97 304.9,60.8 305.9,60.63 306.9,60.46 307.9,60.29 308.9,60.13 309.9,59.96 310.9,59.79 311.9,59.62 312.9,59.45" fill="none" stroke="#806b14" stroke-width="1.98" stroke-linecap="round" stroke-linejoin="round" /><polyline points="312.9,59.45 313.9,59.29 314.9,59.12 315.9,58.95 316.9,58.78 317.9,58.6 318.9,58.43 319.9,58.26 320.9,58.09 321.9,57.91 322.9,57.74 323.9,57.56 324.9,57.39" fill="none" stroke="#806b14" stroke-width="1.97" stroke-linecap="round" stroke-linejoin="round" /><polyline points="324.9,57.39 325.9,57.21 326.9,57.04 327.9,56.86 328.9,56.69 329.9,56.52 330.9,56.35 331.9,56.19 332.9,56.03 333.9,55.87 334.9,55.71 335.9,55.56 336.9,55.41" fill="none" stroke="#806b14" stroke-width="1.97" stroke-linecap="round" stroke-linejoin="round" /><polyline points="336.9,55.41 337.9,55.27 338.9,55.13 339.9,54.99 340.9,54.86 341.9,54.73 342.9,54.61 343.9,54.49 344.9,54.38 345.9,54.26 346.9,54.16 347.9,54.05 348.9,53.95" fill="none" stroke="#806b14" stroke-width="1.97" stroke-linecap="round" stroke-linejoin="round" /><polyline points="348.9,53.95 349.9,53.84 350.9,53.75 351.9,53.65 352.9,53.55 353.9,53.46 354.9,53.36 355.9,53.27 356.9,53.17 357.9,53.08 358.9,52.98 359.9,52.89 360.9,52.8" fill="none" stroke="#806b14" stroke-width="1.96" stroke-linecap="round" stroke-linejoin="round" /><polyline points="360.9,52.8 361.9,52.7 362.9,52.61 363.9,52.51 364.9,52.41 365.9,52.32 366.9,52.22 367.9,52.12 368.9,52.02 369.9,51.92 370.9,51.82 371.9,51.72 372.9,51.62" fill="none" stroke="#806b14" stroke-width="1.96" stroke-linecap="round" stroke-linejoin="round" /><polyline points="372.9,51.62 373.9,51.52 374.9,51.42 375.9,51.31 376.9,51.21 377.9,51.11 378.9,51.01 379.9,50.9 380.9,50.8 381.9,50.7 382.9,50.6 383.9,50.5 384.9,50.4" fill="none" stroke="#806b14" stroke-width="1.96" stroke-linecap="round" stroke-linejoin="round" /><polyline points="384.9,50.4 385.9,50.31 386.5,50.21" fill="none" stroke="#806b14" stroke-width="1.95" stroke-linecap="round" stroke-linejoin="round" />
<polyline points="72.9,156 73.9,155.99 74.9,155.96 75.9,155.92 76.9,155.86 77.9,155.79 78.9,155.71 79.9,155.59 80.9,155.38 81.9,155.1 82.9,154.78 83.9,154.43 84.9,154.05" fill="none" stroke="#7a0000" stroke-width="2.78" stroke-linecap="round" stroke-linejoin="round" /><polyline points="84.9,154.05 85.9,153.67 86.9,153.25 87.9,152.79 88.9,152.29 89.9,151.76 90.9,151.21 91.9,150.63 92.9,150.04 93.9,149.43 94.9,148.81 95.9,148.18 96.9,147.54" fill="none" stroke="#7a0000" stroke-width="2.76" stroke-linecap="round" stroke-linejoin="round" /><polyline points="96.9,147.54 97.9,146.89 98.9,146.22 99.9,145.53 100.9,144.81 101.9,144.07 102.9,143.3 103.9,142.5 104.9,141.67 105.9,140.81 106.9,139.91 107.9,138.99 108.9,138.04" fill="none" stroke="#7a0000" stroke-width="2.74" stroke-linecap="round" stroke-linejoin="round" /><polyline points="108.9,138.04 109.9,137.07 110.9,136.1 111.9,135.13 112.9,134.17 113.9,133.22 114.9,132.29 115.9,131.36 116.9,130.45 117.9,129.55 118.9,128.68 119.9,127.83 120.9,126.99" fill="none" stroke="#7a0000" stroke-width="2.72" stroke-linecap="round" stroke-linejoin="round" /><polyline points="120.9,126.99 121.9,126.18 122.9,125.39 123.9,124.62 124.9,123.87 125.9,123.14 126.9,122.43 127.9,121.73 128.9,121.06 129.9,120.4 130.9,119.75 131.9,119.12 132.9,118.51" fill="none" stroke="#7a0000" stroke-width="2.69" stroke-linecap="round" stroke-linejoin="round" /><polyline points="132.9,118.51 133.9,117.91 134.9,117.32 135.9,116.74 136.9,116.18 137.9,115.62 138.9,115.08 139.9,114.54 140.9,114.01 141.9,113.49 142.9,112.98 143.9,112.47 144.9,111.97" fill="none" stroke="#7a0000" stroke-width="2.59" stroke-linecap="round" stroke-linejoin="round" /><polyline points="144.9,111.97 145.9,111.48 146.9,110.99 147.9,110.51 148.9,110.03 149.9,109.55 150.9,109.08 151.9,108.61 152.9,108.15 153.9,107.68 154.9,107.21 155.9,106.74 156.9,106.28" fill="none" stroke="#7a0000" stroke-width="2.5" stroke-linecap="round" stroke-linejoin="round" /><polyline points="156.9,106.28 157.9,105.81 158.9,105.35 159.9,104.88 160.9,104.42 161.9,103.96 162.9,103.5 163.9,103.05 164.9,102.59 165.9,102.14 166.9,101.69 167.9,101.24 168.9,100.79" fill="none" stroke="#7a0000" stroke-width="2.41" stroke-linecap="round" stroke-linejoin="round" /><polyline points="168.9,100.79 169.9,100.35 170.9,99.91 171.9,99.47 172.9,99.04 173.9,98.61 174.9,98.18 175.9,97.76 176.9,97.35 177.9,96.94 178.9,96.53 179.9,96.13 180.9,95.73" fill="none" stroke="#7a0000" stroke-width="2.32" stroke-linecap="round" stroke-linejoin="round" /><polyline points="180.9,95.73 181.9,95.34 182.9,94.95 183.9,94.57 184.9,94.19 185.9,93.82 186.9,93.45 187.9,93.08 188.9,92.73 189.9,92.37 190.9,92.02 191.9,91.67 192.9,91.33" fill="none" stroke="#7a0000" stroke-width="2.24" stroke-linecap="round" stroke-linejoin="round" /><polyline points="192.9,91.33 193.9,90.99 194.9,90.66 195.9,90.33 196.9,90 197.9,89.68 198.9,89.36 199.9,89.04 200.9,88.73 201.9,88.42 202.9,88.11 203.9,87.81 204.9,87.51" fill="none" stroke="#7a0000" stroke-width="2.17" stroke-linecap="round" stroke-linejoin="round" /><polyline points="204.9,87.51 205.9,87.21 206.9,86.91 207.9,86.62 208.9,86.33 209.9,86.04 210.9,85.76 211.9,85.47 212.9,85.19 213.9,84.91 214.9,84.63 215.9,84.36 216.9,84.08" fill="none" stroke="#7a0000" stroke-width="2.09" stroke-linecap="round" stroke-linejoin="round" /><polyline points="216.9,84.08 217.9,83.81 218.9,83.54 219.9,83.26 220.9,82.99 221.9,82.73 222.9,82.46 223.9,82.19 224.9,81.93 225.9,81.66 226.9,81.4 227.9,81.14 228.9,80.87" fill="none" stroke="#7a0000" stroke-width="2.01" stroke-linecap="round" stroke-linejoin="round" /><polyline points="228.9,80.87 229.9,80.61 230.9,80.35 231.9,80.09 232.9,79.83 233.9,79.56 234.9,79.3 235.9,79.04 236.9,78.78 237.9,78.52 238.9,78.25 239.9,77.99 240.9,77.73" fill="none" stroke="#7a0000" stroke-width="2" stroke-linecap="round" stroke-linejoin="round" /><polyline points="240.9,77.73 241.9,77.46 242.9,77.2 243.9,76.94 244.9,76.67 245.9,76.41 246.9,76.15 247.9,75.89 248.9,75.63 249.9,75.38 250.9,75.13 251.9,74.87 252.9,74.63" fill="none" stroke="#7a0000" stroke-width="1.99" stroke-linecap="round" stroke-linejoin="round" /><polyline points="252.9,74.63 253.9,74.38 254.9,74.14 255.9,73.91 256.9,73.67 257.9,73.45 258.9,73.22 259.9,73 260.9,72.79 261.9,72.58 262.9,72.37 263.9,72.17 264.9,71.97" fill="none" stroke="#7a0000" stroke-width="1.99" stroke-linecap="round" stroke-linejoin="round" /><polyline points="264.9,71.97 265.9,71.78 266.9,71.59 267.9,71.4 268.9,71.22 269.9,71.04 270.9,70.86 271.9,70.68 272.9,70.51 273.9,70.34 274.9,70.17 275.9,70 276.9,69.83" fill="none" stroke="#7a0000" stroke-width="1.99" stroke-linecap="round" stroke-linejoin="round" /><polyline points="276.9,69.83 277.9,69.66 278.9,69.5 279.9,69.33 280.9,69.17 281.9,69.01 282.9,68.84 283.9,68.68 284.9,68.52 285.9,68.36 286.9,68.2 287.9,68.04 288.9,67.88" fill="none" stroke="#7a0000" stroke-width="1.98" stroke-linecap="round" stroke-linejoin="round" /><polyline points="288.9,67.88 289.9,67.71 290.9,67.55 291.9,67.39 292.9,67.23 293.9,67.07 294.9,66.91 295.9,66.74 296.9,66.58 297.9,66.42 298.9,66.25 299.9,66.09 300.9,65.92" fill="none" stroke="#7a0000" stroke-width="1.98" stroke-linecap="round" stroke-linejoin="round" /><polyline points="300.9,65.92 301.9,65.75 302.9,65.58 303.9,65.41 304.9,65.24 305.9,65.07 306.9,64.9 307.9,64.73 308.9,64.55 309.9,64.38 310.9,64.2 311.9,64.02 312.9,63.85" fill="none" stroke="#7a0000" stroke-width="1.98" stroke-linecap="round" stroke-linejoin="round" /><polyline points="312.9,63.85 313.9,63.66 314.9,63.48 315.9,63.3 316.9,63.12 317.9,62.93 318.9,62.74 319.9,62.56 320.9,62.37 321.9,62.18 322.9,61.98 323.9,61.79 324.9,61.6" fill="none" stroke="#7a0000" stroke-width="1.97" stroke-linecap="round" stroke-linejoin="round" /><polyline points="324.9,61.6 325.9,61.41 326.9,61.21 327.9,61.02 328.9,60.83 329.9,60.64 330.9,60.45 331.9,60.27 332.9,60.08 333.9,59.9 334.9,59.72 335.9,59.54 336.9,59.37" fill="none" stroke="#7a0000" stroke-width="1.97" stroke-linecap="round" stroke-linejoin="round" /><polyline points="336.9,59.37 337.9,59.2 338.9,59.04 339.9,58.88 340.9,58.73 341.9,58.58 342.9,58.44 343.9,58.3 344.9,58.17 345.9,58.05 346.9,57.93 347.9,57.81 348.9,57.71" fill="none" stroke="#7a0000" stroke-width="1.97" stroke-linecap="round" stroke-linejoin="round" /><polyline points="348.9,57.71 349.9,57.61 350.9,57.52 351.9,57.43 352.9,57.35 353.1,57.28" fill="none" stroke="#7a0000" stroke-width="1.96" stroke-linecap="round" stroke-linejoin="round" />
<line x1="72.9" y1="153.2" x2="72.9" y2="161" stroke="#7a0000" stroke-width="1.8" stroke-linecap="round"/>
<line x1="72.9" y1="163.8" x2="72.9" y2="171.5" stroke="#e60000" stroke-width="1.8" stroke-linecap="round"/>
<line x1="72.9" y1="171" x2="72.9" y2="178.4" stroke="#96be28" stroke-width="1.8" stroke-linecap="round"/>
<line x1="72.9" y1="178.5" x2="72.9" y2="182" stroke="#0000e6" stroke-width="1.8" stroke-linecap="round"/>
<line x1="72.9" y1="182" x2="72.9" y2="193" stroke="#3c3c3c" stroke-width="1.8" stroke-linecap="round"/>
<circle cx="213" cy="78.6" r="1.15" fill="#0a8a1e"/><circle cx="215.6" cy="77.9" r="1.15" fill="#0a8a1e"/><circle cx="220" cy="76" r="1.15" fill="#0a8a1e"/><circle cx="224.5" cy="74.7" r="1.15" fill="#0a8a1e"/><circle cx="234" cy="72.2" r="1.15" fill="#0a8a1e"/><circle cx="238.3" cy="70.7" r="1.15" fill="#0a8a1e"/><circle cx="248.4" cy="68.2" r="1.15" fill="#0a8a1e"/><circle cx="250.2" cy="68" r="1.15" fill="#0a8a1e"/><circle cx="252" cy="67.9" r="1.15" fill="#0a8a1e"/><circle cx="258" cy="66.2" r="1.15" fill="#0a8a1e"/><circle cx="268.7" cy="62.8" r="1.15" fill="#0a8a1e"/><circle cx="271.6" cy="62.6" r="1.15" fill="#0a8a1e"/><circle cx="280.2" cy="60.3" r="1.15" fill="#0a8a1e"/><circle cx="283.2" cy="59.9" r="1.15" fill="#0a8a1e"/><circle cx="292" cy="57.2" r="1.15" fill="#0a8a1e"/><circle cx="295.5" cy="56.8" r="1.15" fill="#0a8a1e"/><circle cx="303" cy="54.6" r="1.15" fill="#0a8a1e"/><circle cx="308.8" cy="54.2" r="1.15" fill="#0a8a1e"/><circle cx="319.4" cy="51.3" r="1.15" fill="#0a8a1e"/><circle cx="322" cy="51" r="1.15" fill="#0a8a1e"/><circle cx="331.5" cy="48.3" r="1.15" fill="#0a8a1e"/><circle cx="336.2" cy="48" r="1.15" fill="#0a8a1e"/><circle cx="345.8" cy="45.2" r="1.15" fill="#0a8a1e"/><circle cx="351.7" cy="44.8" r="1.15" fill="#0a8a1e"/><circle cx="361.8" cy="41.9" r="1.15" fill="#0a8a1e"/><circle cx="367.7" cy="40" r="1.15" fill="#0a8a1e"/>
<circle cx="242.5" cy="98.5" r="1.1" fill="#7a0000"/>
<circle cx="70.4" cy="325.3" r="1.7" fill="#e60000"/>
<circle cx="70.2" cy="327.2" r="1.3" fill="#0a8a1e"/>
<circle cx="73.2" cy="326.3" r="1.3" fill="#0000e6"/>
</g>
<g id="main-axes" stroke="#000000" stroke-opacity="0.43" stroke-width="1" fill="none">
<path d="M69.5 7.5 H388.5 V326.5 H69.5 Z"/>
<path d="M69.5 327 v5.3 M69.5 7 v-5.3 M80.13 327 v2.9 M80.13 7 v-2.9 M90.77 327 v2.9 M90.77 7 v-2.9 M101.4 327 v2.9 M101.4 7 v-2.9 M112.03 327 v2.9 M112.03 7 v-2.9 M122.67 327 v2.9 M122.67 7 v-2.9 M133.3 327 v2.9 M133.3 7 v-2.9 M143.93 327 v2.9 M143.93 7 v-2.9 M154.57 327 v2.9 M154.57 7 v-2.9 M165.2 327 v2.9 M165.2 7 v-2.9 M175.5 327 v5.3 M175.5 7 v-5.3 M186.47 327 v2.9 M186.47 7 v-2.9 M197.1 327 v2.9 M197.1 7 v-2.9 M207.73 327 v2.9 M207.73 7 v-2.9 M218.37 327 v2.9 M218.37 7 v-2.9 M229 327 v2.9 M229 7 v-2.9 M239.63 327 v2.9 M239.63 7 v-2.9 M250.27 327 v2.9 M250.27 7 v-2.9 M260.9 327 v2.9 M260.9 7 v-2.9 M271.53 327 v2.9 M271.53 7 v-2.9 M282.5 327 v5.3 M282.5 7 v-5.3 M292.8 327 v2.9 M292.8 7 v-2.9 M303.43 327 v2.9 M303.43 7 v-2.9 M314.07 327 v2.9 M314.07 7 v-2.9 M324.7 327 v2.9 M324.7 7 v-2.9 M335.33 327 v2.9 M335.33 7 v-2.9 M345.97 327 v2.9 M345.97 7 v-2.9 M356.6 327 v2.9 M356.6 7 v-2.9 M367.23 327 v2.9 M367.23 7 v-2.9 M377.87 327 v2.9 M377.87 7 v-2.9 M388.5 327 v5.3 M388.5 7 v-5.3 M69 326.5 h-5.5 M389 326.5 h5.3 M69 247 h-5.5 M389 247 h5.3 M69 167.5 h-5.5 M389 167.5 h5.3 M69 87.5 h-5.5 M389 87.5 h5.3 M69 7.5 h-5.5 M389 7.5 h5.3"/>
</g>
<g id="main-text" opacity="0.999" font-family="Liberation Sans, sans-serif" fill="#111111" font-size="16">
<text x="59.6" y="330.1" text-anchor="end">0</text>
<text x="59.6" y="250" text-anchor="end">100</text>
<text x="59.6" y="170.9" text-anchor="end">200</text>
<text x="59.6" y="91.3" text-anchor="end">300</text>
<text x="59.6" y="11.6" text-anchor="end">400</text>
<text x="66.1" y="348.2" text-anchor="middle">0</text>
<text x="173.23" y="348.2" text-anchor="middle">100</text>
<text x="279.57" y="348.2" text-anchor="middle">200</text>
<text x="385" y="348.2" text-anchor="middle">300</text>
<text x="227.6" y="373.6" text-anchor="middle">T (K)</text>
<text transform="translate(12.7 167.0) rotate(-90)" text-anchor="middle" font-size="14.3" textLength="65" lengthAdjust="spacingAndGlyphs">ρ (μΩcm)</text>
<text x="99.3" y="46.4" font-size="15.4">La<tspan font-size="10.8" dy="8.2">3</tspan><tspan dy="-8.2">Ru</tspan><tspan font-size="10.8" dy="8.2">4</tspan><tspan dy="-8.2">Sn</tspan><tspan font-size="10.8" dy="8.2">13</tspan></text>
</g>
<g id="legend" opacity="0.999" font-family="Liberation Sans, sans-serif" font-size="16.05">
<circle cx="103.8" cy="200.1" r="1.05" fill="#0a8a1e"/>
<text x="122.3" y="206.5" fill="#0a8a1e">0 GPa</text>
<circle cx="103.8" cy="217.75" r="1.05" fill="#806b14"/>
<text x="122.3" y="224.15" fill="#806b14">0.11 GPa</text>
<circle cx="103.8" cy="235.4" r="1.05" fill="#7a0000"/>
<text x="122.3" y="241.8" fill="#7a0000">0.42 GPa</text>
<circle cx="103.8" cy="253.05" r="1.05" fill="#e60000"/>
<text x="122.3" y="259.45" fill="#e60000">0.98 GPa</text>
<circle cx="103.8" cy="270.7" r="1.05" fill="#96be28"/>
<text x="122.3" y="277.1" fill="#96be28">1.59 GPa</text>
<circle cx="103.8" cy="288.35" r="1.05" fill="#0000e6"/>
<text x="122.3" y="294.75" fill="#0000e6">2.31 GPa</text>
<circle cx="103.8" cy="306" r="1.05" fill="#3c3c3c"/>
<text x="122.3" y="312.4" fill="#3c3c3c">2.61 GPa</text>
</g>
<g id="inset">
<g stroke="#d2d2d2" stroke-width="1" fill="none">
<path d="M231 135.5 H380.5 V284.5 H231 Z"/>
<path d="M231 284.5 v2.6 M231 135.5 v-2.6 M245.95 284.5 v1.6 M245.95 135.5 v-1.6 M260.9 284.5 v1.6 M260.9 135.5 v-1.6 M275.85 284.5 v1.6 M275.85 135.5 v-1.6 M290.8 284.5 v1.6 M290.8 135.5 v-1.6 M305.75 284.5 v2.6 M305.75 135.5 v-2.6 M320.7 284.5 v1.6 M320.7 135.5 v-1.6 M335.65 284.5 v1.6 M335.65 135.5 v-1.6 M350.6 284.5 v1.6 M350.6 135.5 v-1.6 M365.55 284.5 v1.6 M365.55 135.5 v-1.6 M380.5 284.5 v2.6 M380.5 135.5 v-2.6 M231 284.5 h-2.6 M380.5 284.5 h2.6 M231 247.25 h-2.6 M380.5 247.25 h2.6 M231 210 h-2.6 M380.5 210 h2.6 M231 172.75 h-2.6 M380.5 172.75 h2.6 M231 135.5 h-2.6 M380.5 135.5 h2.6"/>
</g>
<polyline points="231,284.1 247,284.1" fill="none" stroke="#3c3c3c" stroke-width="2.6" stroke-linecap="round" stroke-linejoin="round" />
<polyline points="247,284.1 268,284.1" fill="none" stroke="#0000e6" stroke-width="2.6" stroke-linecap="round" stroke-linejoin="round" />
<polyline points="268,284.1 287,284.1" fill="none" stroke="#96be28" stroke-width="2.6" stroke-linecap="round" stroke-linejoin="round" />
<polyline points="287,284.1 299,284.1" fill="none" stroke="#e60000" stroke-width="2.6" stroke-linecap="round" stroke-linejoin="round" />
<polyline points="299,284.1 320,284.1" fill="none" stroke="#7a0000" stroke-width="2.6" stroke-linecap="round" stroke-linejoin="round" />
<polyline points="320,284.1 334,284.1" fill="none" stroke="#806b14" stroke-width="2.6" stroke-linecap="round" stroke-linejoin="round" />
<line x1="248" y1="285.25" x2="300" y2="285.25" stroke="#b03018" stroke-width="0.8"/>
<circle cx="238.5" cy="284" r="1.32" fill="#3c3c3c"/><circle cx="238.94" cy="283.95" r="1.32" fill="#3c3c3c"/><circle cx="239.38" cy="283.87" r="1.32" fill="#3c3c3c"/><circle cx="239.82" cy="283.77" r="1.32" fill="#3c3c3c"/><circle cx="240.26" cy="283.64" r="1.32" fill="#3c3c3c"/><circle cx="240.7" cy="283.49" r="1.32" fill="#3c3c3c"/><circle cx="241.14" cy="283.33" r="1.32" fill="#3c3c3c"/><circle cx="241.58" cy="283.17" r="1.32" fill="#3c3c3c"/><circle cx="242.02" cy="282.96" r="1.32" fill="#3c3c3c"/><circle cx="242.46" cy="282.71" r="1.32" fill="#3c3c3c"/><circle cx="242.9" cy="282.43" r="1.32" fill="#3c3c3c"/><circle cx="243.34" cy="282.12" r="1.32" fill="#3c3c3c"/><circle cx="243.78" cy="281.78" r="1.32" fill="#3c3c3c"/><circle cx="244.22" cy="281.41" r="1.32" fill="#3c3c3c"/><circle cx="244.66" cy="280.99" r="1.32" fill="#3c3c3c"/><circle cx="245.1" cy="280.53" r="1.32" fill="#3c3c3c"/><circle cx="245.54" cy="280.04" r="1.32" fill="#3c3c3c"/><circle cx="245.98" cy="279.49" r="1.32" fill="#3c3c3c"/><circle cx="246.42" cy="278.9" r="1.32" fill="#3c3c3c"/><circle cx="246.86" cy="278.25" r="1.32" fill="#3c3c3c"/><circle cx="247.3" cy="277.55" r="1.32" fill="#3c3c3c"/><circle cx="247.74" cy="276.79" r="1.32" fill="#3c3c3c"/><circle cx="248.18" cy="275.97" r="1.32" fill="#3c3c3c"/><circle cx="248.62" cy="275.09" r="1.32" fill="#3c3c3c"/><circle cx="249.06" cy="274.14" r="1.32" fill="#3c3c3c"/><circle cx="249.5" cy="273.13" r="1.32" fill="#3c3c3c"/><circle cx="249.94" cy="272.03" r="1.32" fill="#3c3c3c"/><circle cx="250.38" cy="270.86" r="1.32" fill="#3c3c3c"/><circle cx="250.82" cy="269.6" r="1.32" fill="#3c3c3c"/><circle cx="251.26" cy="268.24" r="1.32" fill="#3c3c3c"/><circle cx="251.7" cy="266.79" r="1.32" fill="#3c3c3c"/><circle cx="252.14" cy="265.22" r="1.32" fill="#3c3c3c"/><circle cx="252.58" cy="263.39" r="1.32" fill="#3c3c3c"/><circle cx="253.02" cy="261.33" r="1.32" fill="#3c3c3c"/><circle cx="253.46" cy="259.05" r="1.32" fill="#3c3c3c"/><circle cx="253.9" cy="256.57" r="1.32" fill="#3c3c3c"/><circle cx="254.34" cy="253.91" r="1.32" fill="#3c3c3c"/><circle cx="254.78" cy="250.99" r="1.32" fill="#3c3c3c"/><circle cx="255.22" cy="247.53" r="1.32" fill="#3c3c3c"/><circle cx="255.66" cy="243.7" r="1.32" fill="#3c3c3c"/><circle cx="256.1" cy="239.69" r="1.32" fill="#3c3c3c"/><circle cx="256.54" cy="235.68" r="1.32" fill="#3c3c3c"/><circle cx="256.98" cy="231.87" r="1.32" fill="#3c3c3c"/><circle cx="257.42" cy="228.31" r="1.32" fill="#3c3c3c"/><circle cx="257.86" cy="224.85" r="1.32" fill="#3c3c3c"/><circle cx="258.3" cy="221.41" r="1.32" fill="#3c3c3c"/><circle cx="258.74" cy="217.91" r="1.32" fill="#3c3c3c"/><circle cx="259.18" cy="214.24" r="1.32" fill="#3c3c3c"/><circle cx="259.62" cy="210.35" r="1.32" fill="#3c3c3c"/><circle cx="260.06" cy="206.26" r="1.32" fill="#3c3c3c"/><circle cx="260.5" cy="202" r="1.32" fill="#3c3c3c"/><circle cx="260.94" cy="197.41" r="1.32" fill="#3c3c3c"/><circle cx="261.38" cy="192.22" r="1.32" fill="#3c3c3c"/><circle cx="261.82" cy="187.51" r="1.32" fill="#3c3c3c"/><circle cx="262.26" cy="184.12" r="1.32" fill="#3c3c3c"/><circle cx="262.7" cy="181.31" r="1.32" fill="#3c3c3c"/><circle cx="263.14" cy="179.17" r="1.32" fill="#3c3c3c"/>

<circle cx="260" cy="284" r="1.32" fill="#0000e6"/><circle cx="260.44" cy="283.92" r="1.32" fill="#0000e6"/><circle cx="260.88" cy="283.8" r="1.32" fill="#0000e6"/><circle cx="261.32" cy="283.67" r="1.32" fill="#0000e6"/><circle cx="261.76" cy="283.51" r="1.32" fill="#0000e6"/><circle cx="262.2" cy="283.34" r="1.32" fill="#0000e6"/><circle cx="262.64" cy="283.16" r="1.32" fill="#0000e6"/><circle cx="263.08" cy="282.96" r="1.32" fill="#0000e6"/><circle cx="263.52" cy="282.74" r="1.32" fill="#0000e6"/><circle cx="263.96" cy="282.48" r="1.32" fill="#0000e6"/><circle cx="264.4" cy="282.19" r="1.32" fill="#0000e6"/><circle cx="264.84" cy="281.88" r="1.32" fill="#0000e6"/><circle cx="265.28" cy="281.54" r="1.32" fill="#0000e6"/><circle cx="265.72" cy="281.16" r="1.32" fill="#0000e6"/><circle cx="266.16" cy="280.73" r="1.32" fill="#0000e6"/><circle cx="266.6" cy="280.26" r="1.32" fill="#0000e6"/><circle cx="267.04" cy="279.75" r="1.32" fill="#0000e6"/><circle cx="267.48" cy="279.21" r="1.32" fill="#0000e6"/><circle cx="267.92" cy="278.63" r="1.32" fill="#0000e6"/><circle cx="268.36" cy="277.99" r="1.32" fill="#0000e6"/><circle cx="268.8" cy="277.26" r="1.32" fill="#0000e6"/><circle cx="269.24" cy="276.42" r="1.32" fill="#0000e6"/><circle cx="269.68" cy="275.44" r="1.32" fill="#0000e6"/><circle cx="270.12" cy="274.29" r="1.32" fill="#0000e6"/><circle cx="270.56" cy="272.94" r="1.32" fill="#0000e6"/><circle cx="271" cy="271.4" r="1.32" fill="#0000e6"/><circle cx="271.44" cy="269.65" r="1.32" fill="#0000e6"/><circle cx="271.88" cy="267.68" r="1.32" fill="#0000e6"/><circle cx="272.32" cy="265.43" r="1.32" fill="#0000e6"/><circle cx="272.76" cy="262.23" r="1.32" fill="#0000e6"/><circle cx="273.2" cy="258.3" r="1.32" fill="#0000e6"/><circle cx="273.64" cy="254.27" r="1.32" fill="#0000e6"/><circle cx="274.08" cy="250.6" r="1.32" fill="#0000e6"/><circle cx="274.52" cy="247.04" r="1.32" fill="#0000e6"/><circle cx="274.96" cy="243.44" r="1.32" fill="#0000e6"/><circle cx="275.4" cy="239.7" r="1.32" fill="#0000e6"/><circle cx="275.84" cy="235.69" r="1.32" fill="#0000e6"/><circle cx="276.28" cy="231.4" r="1.32" fill="#0000e6"/><circle cx="276.72" cy="226.87" r="1.32" fill="#0000e6"/><circle cx="277.16" cy="222.19" r="1.32" fill="#0000e6"/><circle cx="277.6" cy="217.4" r="1.32" fill="#0000e6"/><circle cx="278.04" cy="212.42" r="1.32" fill="#0000e6"/><circle cx="278.48" cy="207.28" r="1.32" fill="#0000e6"/><circle cx="278.92" cy="202.1" r="1.32" fill="#0000e6"/><circle cx="279.36" cy="196.86" r="1.32" fill="#0000e6"/><circle cx="279.8" cy="191.4" r="1.32" fill="#0000e6"/><circle cx="280.24" cy="186.56" r="1.32" fill="#0000e6"/><circle cx="280.68" cy="182.75" r="1.32" fill="#0000e6"/><circle cx="281.12" cy="179.58" r="1.32" fill="#0000e6"/>

<circle cx="278.5" cy="284" r="1.32" fill="#96be28"/><circle cx="278.94" cy="283.93" r="1.32" fill="#96be28"/><circle cx="279.38" cy="283.82" r="1.32" fill="#96be28"/><circle cx="279.82" cy="283.69" r="1.32" fill="#96be28"/><circle cx="280.26" cy="283.53" r="1.32" fill="#96be28"/><circle cx="280.7" cy="283.35" r="1.32" fill="#96be28"/><circle cx="281.14" cy="283.16" r="1.32" fill="#96be28"/><circle cx="281.58" cy="282.96" r="1.32" fill="#96be28"/><circle cx="282.02" cy="282.72" r="1.32" fill="#96be28"/><circle cx="282.46" cy="282.44" r="1.32" fill="#96be28"/><circle cx="282.9" cy="282.11" r="1.32" fill="#96be28"/><circle cx="283.34" cy="281.75" r="1.32" fill="#96be28"/><circle cx="283.78" cy="281.34" r="1.32" fill="#96be28"/><circle cx="284.22" cy="280.87" r="1.32" fill="#96be28"/><circle cx="284.66" cy="280.34" r="1.32" fill="#96be28"/><circle cx="285.1" cy="279.77" r="1.32" fill="#96be28"/><circle cx="285.54" cy="279.18" r="1.32" fill="#96be28"/><circle cx="285.98" cy="278.53" r="1.32" fill="#96be28"/><circle cx="286.42" cy="277.77" r="1.32" fill="#96be28"/><circle cx="286.86" cy="276.83" r="1.32" fill="#96be28"/><circle cx="287.3" cy="275.55" r="1.32" fill="#96be28"/><circle cx="287.74" cy="274" r="1.32" fill="#96be28"/><circle cx="288.18" cy="272.29" r="1.32" fill="#96be28"/><circle cx="288.62" cy="270.5" r="1.32" fill="#96be28"/><circle cx="289.06" cy="268.58" r="1.32" fill="#96be28"/><circle cx="289.5" cy="266.42" r="1.32" fill="#96be28"/><circle cx="289.94" cy="263.88" r="1.32" fill="#96be28"/><circle cx="290.38" cy="260.68" r="1.32" fill="#96be28"/><circle cx="290.82" cy="256.7" r="1.32" fill="#96be28"/><circle cx="291.26" cy="252.27" r="1.32" fill="#96be28"/><circle cx="291.7" cy="246.83" r="1.32" fill="#96be28"/><circle cx="292.14" cy="241.34" r="1.32" fill="#96be28"/><circle cx="292.58" cy="237.23" r="1.32" fill="#96be28"/><circle cx="293.02" cy="233.99" r="1.32" fill="#96be28"/>
<circle cx="297.2" cy="170.7" r="1.32" fill="#96be28"/><circle cx="297" cy="176" r="1.32" fill="#96be28"/><circle cx="296.7" cy="181.2" r="1.32" fill="#96be28"/><circle cx="296.4" cy="186.7" r="1.32" fill="#96be28"/><circle cx="296.1" cy="192.1" r="1.32" fill="#96be28"/><circle cx="295.8" cy="197.4" r="1.32" fill="#96be28"/><circle cx="295.4" cy="203.3" r="1.32" fill="#96be28"/><circle cx="295" cy="208.8" r="1.32" fill="#96be28"/><circle cx="294.6" cy="214.5" r="1.32" fill="#96be28"/><circle cx="294.2" cy="220.7" r="1.32" fill="#96be28"/><circle cx="293.9" cy="226" r="1.32" fill="#96be28"/><circle cx="293.6" cy="231.2" r="1.32" fill="#96be28"/>
<circle cx="288.5" cy="284.1" r="1.32" fill="#e60000"/><circle cx="288.94" cy="284.04" r="1.32" fill="#e60000"/><circle cx="289.38" cy="283.95" r="1.32" fill="#e60000"/><circle cx="289.82" cy="283.83" r="1.32" fill="#e60000"/><circle cx="290.26" cy="283.69" r="1.32" fill="#e60000"/><circle cx="290.7" cy="283.52" r="1.32" fill="#e60000"/><circle cx="291.14" cy="283.35" r="1.32" fill="#e60000"/><circle cx="291.58" cy="283.17" r="1.32" fill="#e60000"/><circle cx="292.02" cy="282.95" r="1.32" fill="#e60000"/><circle cx="292.46" cy="282.68" r="1.32" fill="#e60000"/><circle cx="292.9" cy="282.37" r="1.32" fill="#e60000"/><circle cx="293.34" cy="282.03" r="1.32" fill="#e60000"/><circle cx="293.78" cy="281.64" r="1.32" fill="#e60000"/><circle cx="294.22" cy="281.16" r="1.32" fill="#e60000"/><circle cx="294.66" cy="280.62" r="1.32" fill="#e60000"/><circle cx="295.1" cy="280.06" r="1.32" fill="#e60000"/><circle cx="295.54" cy="279.54" r="1.32" fill="#e60000"/><circle cx="295.98" cy="279.04" r="1.32" fill="#e60000"/><circle cx="296.42" cy="278.55" r="1.32" fill="#e60000"/><circle cx="296.86" cy="278.05" r="1.32" fill="#e60000"/><circle cx="297.3" cy="277.52" r="1.32" fill="#e60000"/><circle cx="297.74" cy="276.93" r="1.32" fill="#e60000"/><circle cx="298.18" cy="276.27" r="1.32" fill="#e60000"/><circle cx="298.62" cy="275.54" r="1.32" fill="#e60000"/><circle cx="299.06" cy="274.74" r="1.32" fill="#e60000"/><circle cx="299.5" cy="273.87" r="1.32" fill="#e60000"/><circle cx="299.94" cy="272.93" r="1.32" fill="#e60000"/><circle cx="300.38" cy="271.93" r="1.32" fill="#e60000"/><circle cx="300.82" cy="270.85" r="1.32" fill="#e60000"/><circle cx="301.26" cy="269.65" r="1.32" fill="#e60000"/><circle cx="301.7" cy="268.32" r="1.32" fill="#e60000"/><circle cx="302.14" cy="266.86" r="1.32" fill="#e60000"/><circle cx="302.58" cy="265.26" r="1.32" fill="#e60000"/><circle cx="303.02" cy="263.42" r="1.32" fill="#e60000"/><circle cx="303.46" cy="261.23" r="1.32" fill="#e60000"/><circle cx="303.9" cy="259.01" r="1.32" fill="#e60000"/><circle cx="304.34" cy="256.96" r="1.32" fill="#e60000"/><circle cx="304.78" cy="254.77" r="1.32" fill="#e60000"/><circle cx="305.22" cy="252.08" r="1.32" fill="#e60000"/><circle cx="305.66" cy="248.46" r="1.32" fill="#e60000"/><circle cx="306.1" cy="244.46" r="1.32" fill="#e60000"/><circle cx="306.54" cy="240.09" r="1.32" fill="#e60000"/>
<circle cx="310.2" cy="168.8" r="1.32" fill="#e60000"/><circle cx="310.2" cy="177.1" r="1.32" fill="#e60000"/><circle cx="309.5" cy="189" r="1.32" fill="#e60000"/><circle cx="309" cy="203.3" r="1.32" fill="#e60000"/><circle cx="308.3" cy="217.6" r="1.32" fill="#e60000"/><circle cx="307.9" cy="228.8" r="1.32" fill="#e60000"/>
<circle cx="318" cy="284.1" r="1.32" fill="#806b14"/><circle cx="318.44" cy="284.07" r="1.32" fill="#806b14"/><circle cx="318.88" cy="284.03" r="1.32" fill="#806b14"/><circle cx="319.32" cy="283.98" r="1.32" fill="#806b14"/><circle cx="319.76" cy="283.93" r="1.32" fill="#806b14"/><circle cx="320.2" cy="283.87" r="1.32" fill="#806b14"/><circle cx="320.64" cy="283.81" r="1.32" fill="#806b14"/><circle cx="321.08" cy="283.74" r="1.32" fill="#806b14"/><circle cx="321.52" cy="283.67" r="1.32" fill="#806b14"/><circle cx="321.96" cy="283.59" r="1.32" fill="#806b14"/><circle cx="322.4" cy="283.51" r="1.32" fill="#806b14"/><circle cx="322.84" cy="283.43" r="1.32" fill="#806b14"/><circle cx="323.28" cy="283.35" r="1.32" fill="#806b14"/><circle cx="323.72" cy="283.25" r="1.32" fill="#806b14"/><circle cx="324.16" cy="283.15" r="1.32" fill="#806b14"/><circle cx="324.6" cy="283.04" r="1.32" fill="#806b14"/><circle cx="325.04" cy="282.92" r="1.32" fill="#806b14"/><circle cx="325.48" cy="282.8" r="1.32" fill="#806b14"/><circle cx="325.92" cy="282.66" r="1.32" fill="#806b14"/><circle cx="326.36" cy="282.52" r="1.32" fill="#806b14"/><circle cx="326.8" cy="282.37" r="1.32" fill="#806b14"/><circle cx="327.24" cy="282.21" r="1.32" fill="#806b14"/><circle cx="327.68" cy="282.03" r="1.32" fill="#806b14"/><circle cx="328.12" cy="281.84" r="1.32" fill="#806b14"/><circle cx="328.56" cy="281.63" r="1.32" fill="#806b14"/><circle cx="329" cy="281.4" r="1.32" fill="#806b14"/><circle cx="329.44" cy="281.16" r="1.32" fill="#806b14"/><circle cx="329.88" cy="280.91" r="1.32" fill="#806b14"/><circle cx="330.32" cy="280.65" r="1.32" fill="#806b14"/><circle cx="330.76" cy="280.38" r="1.32" fill="#806b14"/><circle cx="331.2" cy="280.09" r="1.32" fill="#806b14"/><circle cx="331.64" cy="279.78" r="1.32" fill="#806b14"/><circle cx="332.08" cy="279.45" r="1.32" fill="#806b14"/><circle cx="332.52" cy="279.1" r="1.32" fill="#806b14"/><circle cx="332.96" cy="278.71" r="1.32" fill="#806b14"/><circle cx="333.4" cy="278.3" r="1.32" fill="#806b14"/><circle cx="333.84" cy="277.85" r="1.32" fill="#806b14"/><circle cx="334.28" cy="277.35" r="1.32" fill="#806b14"/><circle cx="334.72" cy="276.77" r="1.32" fill="#806b14"/><circle cx="335.16" cy="276.13" r="1.32" fill="#806b14"/><circle cx="335.6" cy="275.41" r="1.32" fill="#806b14"/><circle cx="336.04" cy="274.61" r="1.32" fill="#806b14"/><circle cx="336.48" cy="273.71" r="1.32" fill="#806b14"/><circle cx="336.92" cy="272.54" r="1.32" fill="#806b14"/><circle cx="337.36" cy="271.19" r="1.32" fill="#806b14"/><circle cx="337.8" cy="269.76" r="1.32" fill="#806b14"/><circle cx="338.24" cy="268.37" r="1.32" fill="#806b14"/><circle cx="338.68" cy="267.06" r="1.32" fill="#806b14"/><circle cx="339.12" cy="265.69" r="1.32" fill="#806b14"/><circle cx="339.56" cy="264.09" r="1.32" fill="#806b14"/><circle cx="340" cy="261.96" r="1.32" fill="#806b14"/><circle cx="340.44" cy="259.19" r="1.32" fill="#806b14"/><circle cx="340.88" cy="256.42" r="1.32" fill="#806b14"/><circle cx="341.32" cy="253.88" r="1.32" fill="#806b14"/><circle cx="341.76" cy="251.22" r="1.32" fill="#806b14"/><circle cx="342.2" cy="248.07" r="1.32" fill="#806b14"/><circle cx="342.64" cy="244.72" r="1.32" fill="#806b14"/><circle cx="343.08" cy="241.73" r="1.32" fill="#806b14"/>
<circle cx="347.9" cy="154" r="1.32" fill="#806b14"/><circle cx="346.7" cy="176" r="1.32" fill="#806b14"/><circle cx="345.5" cy="201.4" r="1.32" fill="#806b14"/><circle cx="344.8" cy="217.1" r="1.32" fill="#806b14"/><circle cx="344.3" cy="227.9" r="1.32" fill="#806b14"/><circle cx="343.9" cy="234" r="1.32" fill="#806b14"/>
<circle cx="306" cy="284.1" r="1.32" fill="#7a0000"/><circle cx="306.44" cy="284.06" r="1.32" fill="#7a0000"/><circle cx="306.88" cy="284" r="1.32" fill="#7a0000"/><circle cx="307.32" cy="283.94" r="1.32" fill="#7a0000"/><circle cx="307.76" cy="283.87" r="1.32" fill="#7a0000"/><circle cx="308.2" cy="283.79" r="1.32" fill="#7a0000"/><circle cx="308.64" cy="283.7" r="1.32" fill="#7a0000"/><circle cx="309.08" cy="283.61" r="1.32" fill="#7a0000"/><circle cx="309.52" cy="283.51" r="1.32" fill="#7a0000"/><circle cx="309.96" cy="283.41" r="1.32" fill="#7a0000"/><circle cx="310.4" cy="283.3" r="1.32" fill="#7a0000"/><circle cx="310.84" cy="283.18" r="1.32" fill="#7a0000"/><circle cx="311.28" cy="283.05" r="1.32" fill="#7a0000"/><circle cx="311.72" cy="282.9" r="1.32" fill="#7a0000"/><circle cx="312.16" cy="282.74" r="1.32" fill="#7a0000"/><circle cx="312.6" cy="282.58" r="1.32" fill="#7a0000"/><circle cx="313.04" cy="282.4" r="1.32" fill="#7a0000"/><circle cx="313.48" cy="282.21" r="1.32" fill="#7a0000"/><circle cx="313.92" cy="282.01" r="1.32" fill="#7a0000"/><circle cx="314.36" cy="281.79" r="1.32" fill="#7a0000"/><circle cx="314.8" cy="281.55" r="1.32" fill="#7a0000"/><circle cx="315.24" cy="281.29" r="1.32" fill="#7a0000"/><circle cx="315.68" cy="281" r="1.32" fill="#7a0000"/><circle cx="316.12" cy="280.69" r="1.32" fill="#7a0000"/><circle cx="316.56" cy="280.35" r="1.32" fill="#7a0000"/><circle cx="317" cy="279.97" r="1.32" fill="#7a0000"/><circle cx="317.44" cy="279.54" r="1.32" fill="#7a0000"/><circle cx="317.88" cy="279.07" r="1.32" fill="#7a0000"/><circle cx="318.32" cy="278.54" r="1.32" fill="#7a0000"/><circle cx="318.76" cy="277.96" r="1.32" fill="#7a0000"/><circle cx="319.2" cy="277.32" r="1.32" fill="#7a0000"/><circle cx="319.64" cy="276.63" r="1.32" fill="#7a0000"/><circle cx="320.08" cy="275.84" r="1.32" fill="#7a0000"/><circle cx="320.52" cy="274.93" r="1.32" fill="#7a0000"/><circle cx="320.96" cy="273.89" r="1.32" fill="#7a0000"/><circle cx="321.4" cy="272.74" r="1.32" fill="#7a0000"/><circle cx="321.84" cy="271.5" r="1.32" fill="#7a0000"/><circle cx="322.28" cy="270.16" r="1.32" fill="#7a0000"/><circle cx="322.72" cy="268.68" r="1.32" fill="#7a0000"/><circle cx="323.16" cy="266.96" r="1.32" fill="#7a0000"/><circle cx="323.6" cy="264.99" r="1.32" fill="#7a0000"/><circle cx="324.04" cy="262.73" r="1.32" fill="#7a0000"/><circle cx="324.48" cy="259.86" r="1.32" fill="#7a0000"/><circle cx="324.92" cy="256.76" r="1.32" fill="#7a0000"/><circle cx="325.36" cy="253.64" r="1.32" fill="#7a0000"/><circle cx="325.8" cy="250.41" r="1.32" fill="#7a0000"/><circle cx="326.24" cy="247.06" r="1.32" fill="#7a0000"/><circle cx="326.68" cy="243.59" r="1.32" fill="#7a0000"/>
<circle cx="331" cy="166.9" r="1.32" fill="#7a0000"/><circle cx="330.5" cy="176.7" r="1.32" fill="#7a0000"/><circle cx="330" cy="189" r="1.32" fill="#7a0000"/><circle cx="329.3" cy="201.4" r="1.32" fill="#7a0000"/><circle cx="328.8" cy="211.7" r="1.32" fill="#7a0000"/><circle cx="328.1" cy="221.2" r="1.32" fill="#7a0000"/><circle cx="328" cy="227.6" r="1.32" fill="#7a0000"/><circle cx="327.6" cy="233.8" r="1.32" fill="#7a0000"/>
<polyline points="263.3,178.6 264.4,175.8 265.8,174.1 268,173.2 272,172.9 344.5,172.9" fill="none" stroke="#3c3c3c" stroke-width="2.5" stroke-linecap="round" stroke-linejoin="round" stroke-linecap="butt"/>
<polyline points="344.5,172.9 381.2,172.9" fill="none" stroke="#3c3c3c" stroke-width="2.5" stroke-linecap="round" stroke-linejoin="round" stroke-linecap="butt" stroke-dasharray="0 1.7 6.3 2.2 3.2 1.4 5 1.6 2 1.3 7 1.5 3 1.2"/>
<polyline points="281.3,178.5 282.4,174.6 283.8,172.3 285.8,170.9 288.5,170.3 318.5,170.2" fill="none" stroke="#0000e6" stroke-width="2.6" stroke-linecap="round" stroke-linejoin="round" stroke-linecap="butt"/>
<polyline points="318.5,170.2 379.8,170.2" fill="none" stroke="#0000e6" stroke-width="2.6" stroke-linecap="round" stroke-linejoin="round" stroke-linecap="butt" stroke-dasharray="0 3.3 12 1.8 6.2 2.7 13 1.7 8 1.7 4 1.3 4.2 1"/>
<polyline points="297.4,168.6 297.9,166.3 298.9,165 300.6,164.6 381.2,164.6" fill="none" stroke="#96be28" stroke-width="2.5" stroke-linecap="round" stroke-linejoin="round" />
<polyline points="310.6,164.2 311,161.6 312,160 313.8,159.4 381.2,159.4" fill="none" stroke="#e60000" stroke-width="2.5" stroke-linecap="round" stroke-linejoin="round" />
<polyline points="331.6,155.6 332,152.7 333,151 334.8,150.4 381.2,150.4" fill="none" stroke="#7a0000" stroke-width="2.5" stroke-linecap="round" stroke-linejoin="round" />
<g opacity="0.999" font-family="Liberation Sans, sans-serif" fill="#111111" font-size="11.8">
<text x="227.6" y="289" text-anchor="end">0</text>
<text x="228.1" y="251.55" text-anchor="end">60</text>
<text x="228.1" y="214.1" text-anchor="end">120</text>
<text x="228.1" y="176.65" text-anchor="end">180</text>
<text x="228.1" y="139.2" text-anchor="end">240</text>
<text x="229.8" y="300.1" text-anchor="middle">3</text>
<text x="304.55" y="300.1" text-anchor="middle">3.5</text>
<text x="379.3" y="300.1" text-anchor="middle">4</text>
<text x="306.7" y="316.1" text-anchor="middle" font-size="11.5">T (K)</text>
<text transform="translate(201.3 209.6) rotate(-90)" text-anchor="middle" font-size="10.6" textLength="48.5" lengthAdjust="spacingAndGlyphs">ρ (μΩcm)</text>
<text x="240.2" y="153.2" font-size="11.3">La<tspan font-size="7.8" dy="6.2">3</tspan><tspan dy="-6.2">Ru</tspan><tspan font-size="7.8" dy="6.2">4</tspan><tspan dy="-6.2">Sn</tspan><tspan font-size="7.8" dy="6.2">13</tspan></text>
</g>
</g>
</svg>
</body>
</html>
